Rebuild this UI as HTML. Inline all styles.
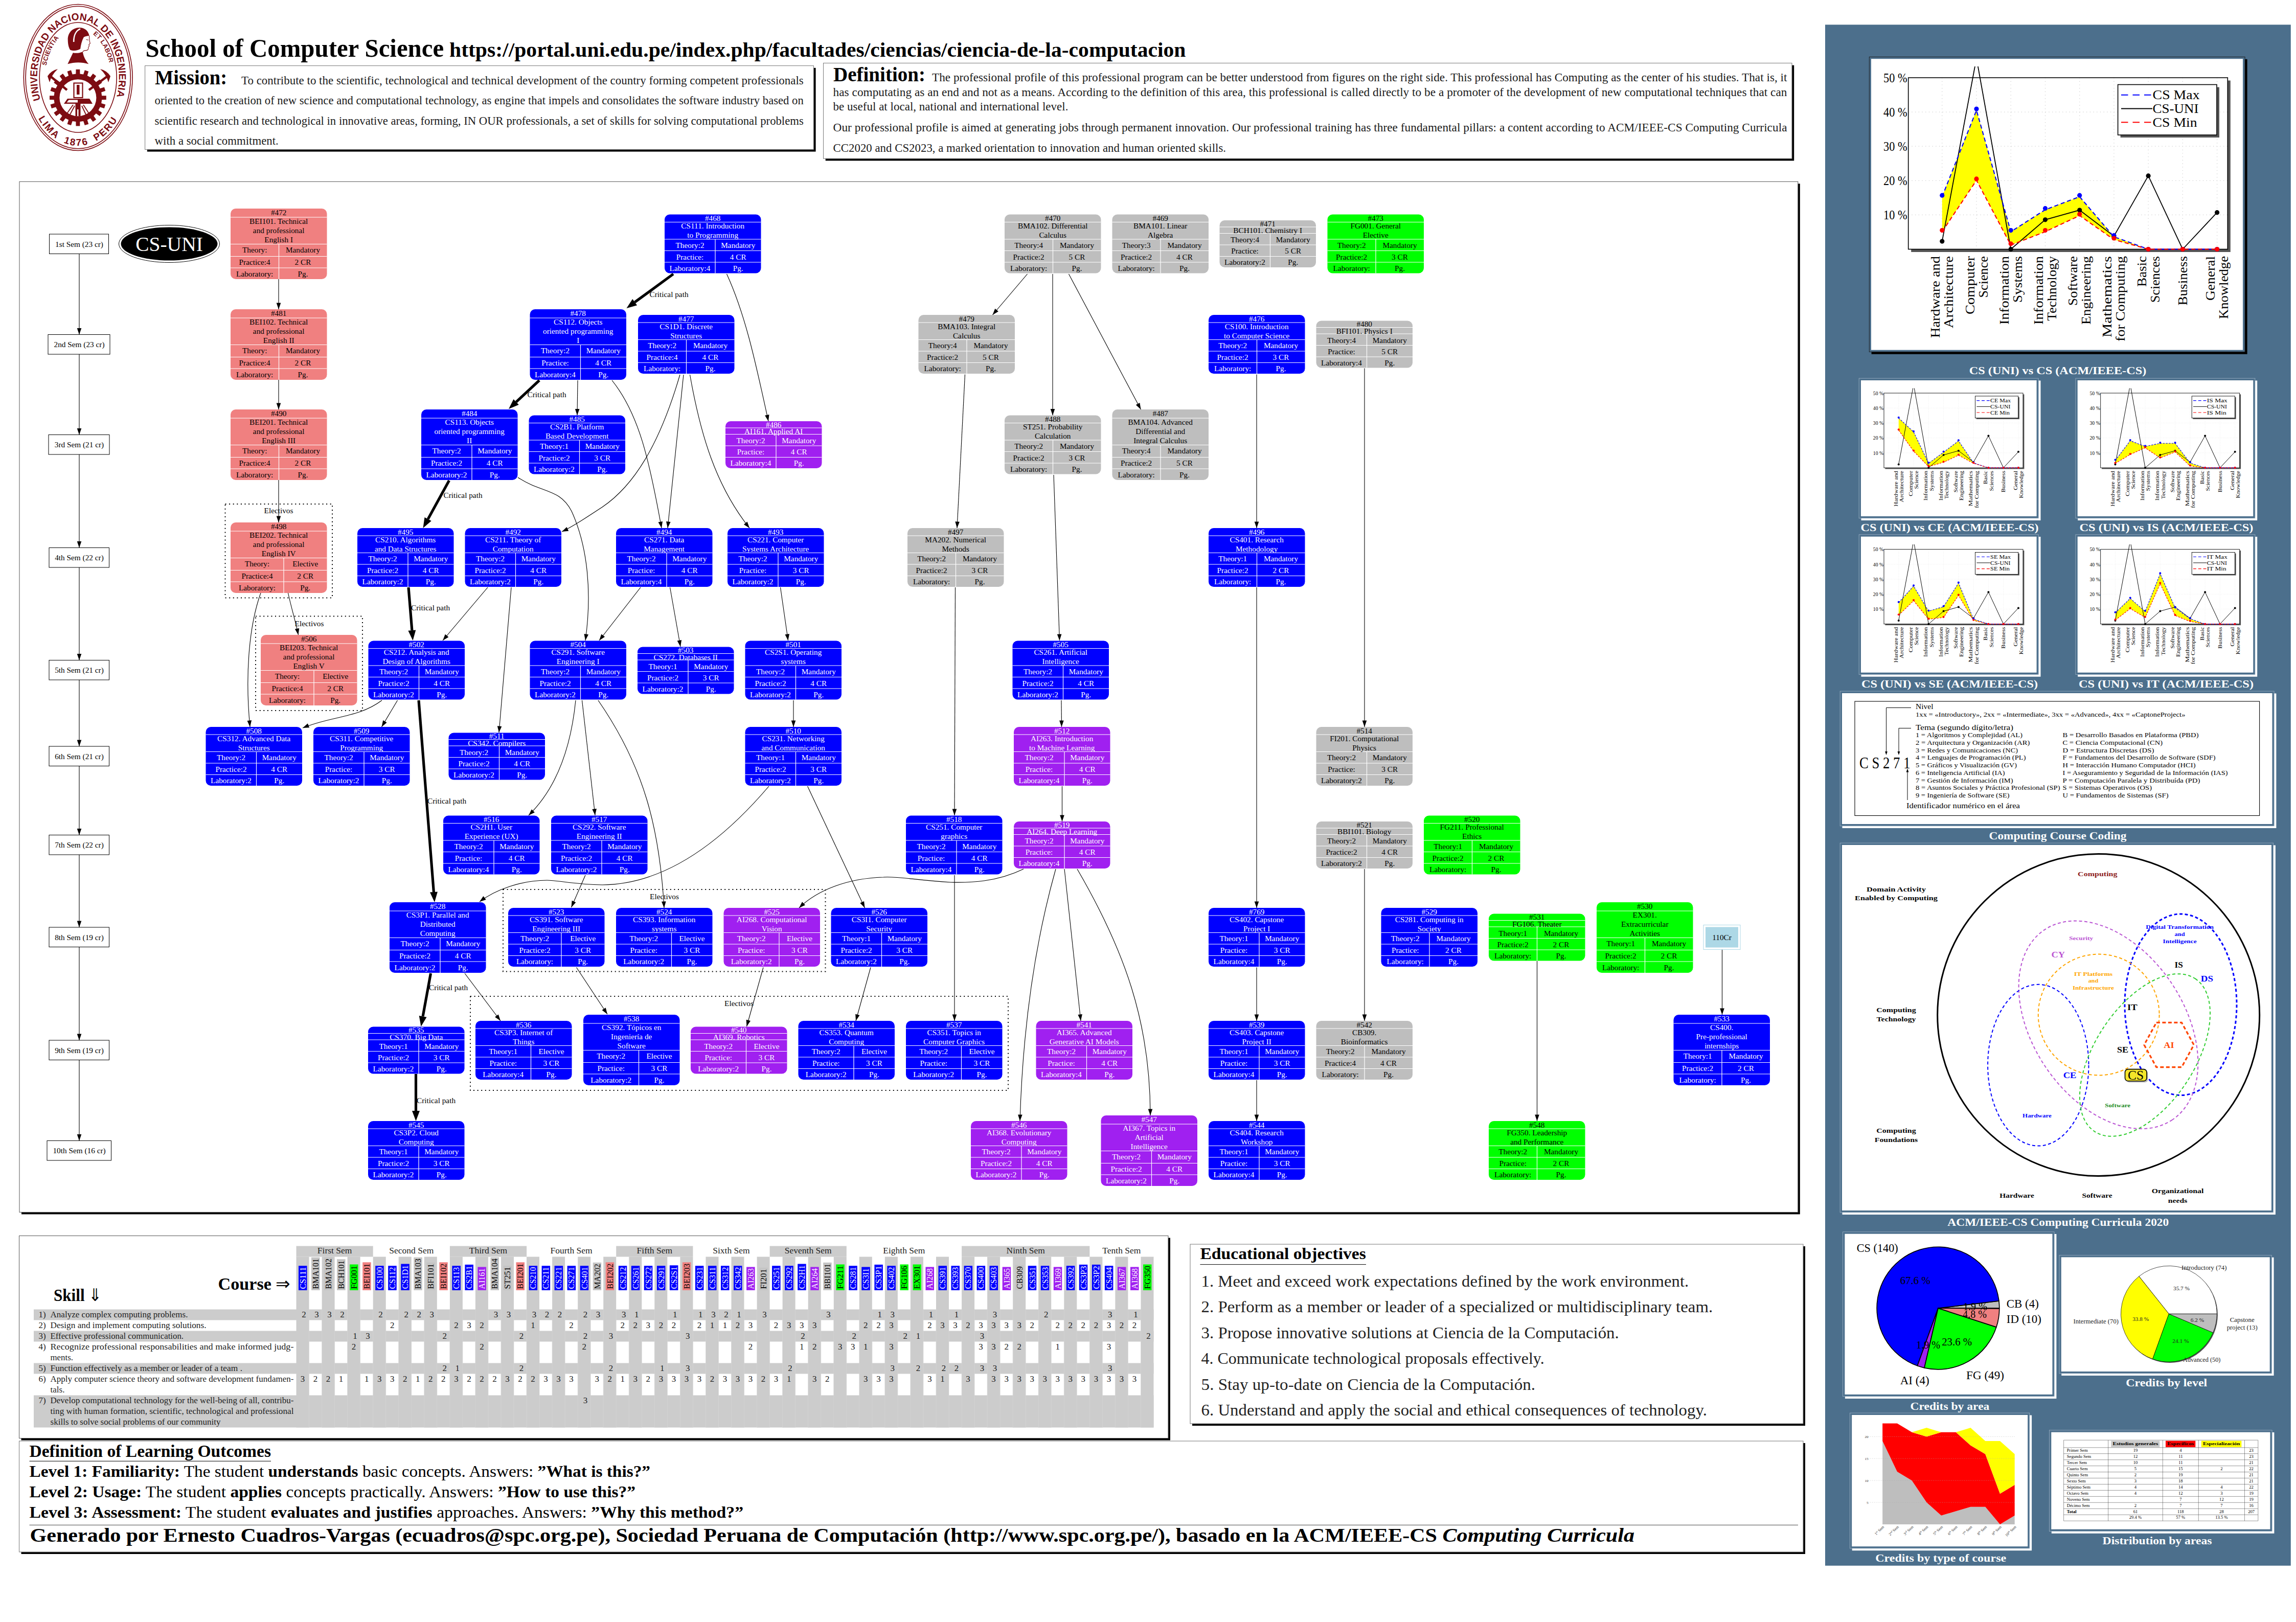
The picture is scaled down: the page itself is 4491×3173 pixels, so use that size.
<!DOCTYPE html>
<html lang="en"><head><meta charset="utf-8"><title>School of Computer Science - UNI</title><style>
html,body{margin:0;padding:0;background:#fff}
svg{display:block}
text{font-family:"Liberation Serif",serif}
.gr text{font-size:15.3px}
.nw text{fill:#fff;text-anchor:middle}
.nk text{fill:#000;text-anchor:middle}
.wl{stroke:#fff;stroke-width:1.2;fill:none}
.e{stroke:#000;stroke-width:1.1;fill:none}
.ec{stroke:#000;stroke-width:5.2;fill:none}

.b{font-weight:bold}
.bd{font-size:23px;fill:#1c1c1c}
.lg text{font-family:"Liberation Sans",sans-serif;font-weight:bold;fill:#7d0c12}

.t17{font-size:17px}
.cl{font-size:17.5px}
.mx text{font-size:17px;text-anchor:middle}

.cap{font-weight:bold;fill:#fff;text-anchor:middle;font-size:21.8px}
.ch text{font-size:25.5px}
.vb{font-weight:bold;font-size:12.6px;text-anchor:middle}
.cd{font-size:11.6px}
.dt text{font-size:8.6px}
</style></head><body>
<svg width="4491" height="3173" viewBox="0 0 4491 3173">
<rect x="42" y="359.3" width="3478.8" height="2016.1" fill="#000"/>
<rect x="38" y="355.3" width="3478.8" height="2016.1" fill="#fff" stroke="#555" stroke-width="1"/>
<g class="gr">
<rect x="96.5" y="458" width="116" height="38.5" fill="#fff" stroke="#000" stroke-width="1"/>
<text x="155" y="482.5" text-anchor="middle">1st Sem (23 cr)</text>
<rect x="94" y="654.5" width="121" height="38.5" fill="#fff" stroke="#000" stroke-width="1"/>
<text x="155" y="679" text-anchor="middle">2nd Sem (23 cr)</text>
<polygon points="155,654.5 150.7,642 159.3,642"/>
<path d="M155,496.5 V654.5" class="e"/>
<rect x="95" y="850.5" width="119" height="38.5" fill="#fff" stroke="#000" stroke-width="1"/>
<text x="155" y="875" text-anchor="middle">3rd Sem (21 cr)</text>
<polygon points="155,850.5 150.7,838 159.3,838"/>
<path d="M155,693 V850.5" class="e"/>
<rect x="96" y="1071.5" width="117.5" height="38.5" fill="#fff" stroke="#000" stroke-width="1"/>
<text x="155" y="1096" text-anchor="middle">4th Sem (22 cr)</text>
<polygon points="155,1071.5 150.7,1059 159.3,1059"/>
<path d="M155,889 V1071.5" class="e"/>
<rect x="96" y="1291.5" width="117.5" height="38.5" fill="#fff" stroke="#000" stroke-width="1"/>
<text x="155" y="1316" text-anchor="middle">5th Sem (21 cr)</text>
<polygon points="155,1291.5 150.7,1279 159.3,1279"/>
<path d="M155,1110 V1291.5" class="e"/>
<rect x="96" y="1460" width="117.5" height="38.5" fill="#fff" stroke="#000" stroke-width="1"/>
<text x="155" y="1484.5" text-anchor="middle">6th Sem (21 cr)</text>
<polygon points="155,1460 150.7,1447.5 159.3,1447.5"/>
<path d="M155,1330 V1460" class="e"/>
<rect x="96" y="1633.5" width="117.5" height="38.5" fill="#fff" stroke="#000" stroke-width="1"/>
<text x="155" y="1658" text-anchor="middle">7th Sem (22 cr)</text>
<polygon points="155,1633.5 150.7,1621 159.3,1621"/>
<path d="M155,1498.5 V1633.5" class="e"/>
<rect x="96" y="1814" width="117.5" height="38.5" fill="#fff" stroke="#000" stroke-width="1"/>
<text x="155" y="1838.5" text-anchor="middle">8th Sem (19 cr)</text>
<polygon points="155,1814 150.7,1801.5 159.3,1801.5"/>
<path d="M155,1672 V1814" class="e"/>
<rect x="96" y="2035" width="117.5" height="38.5" fill="#fff" stroke="#000" stroke-width="1"/>
<text x="155" y="2059.5" text-anchor="middle">9th Sem (19 cr)</text>
<polygon points="155,2035 150.7,2022.5 159.3,2022.5"/>
<path d="M155,1852.5 V2035" class="e"/>
<rect x="92" y="2231.5" width="125.5" height="38.5" fill="#fff" stroke="#000" stroke-width="1"/>
<text x="155" y="2256" text-anchor="middle">10th Sem (16 cr)</text>
<polygon points="155,2231.5 150.7,2219 159.3,2219"/>
<path d="M155,2073.5 V2231.5" class="e"/>
<ellipse cx="331" cy="477" rx="98.5" ry="36.5" fill="none" stroke="#000" stroke-width="1"/>
<ellipse cx="331" cy="477" rx="94.5" ry="32.5" fill="#000"/>
<text x="331" y="490.5" text-anchor="middle" fill="#fff" style="font-size:39.5px">CS-UNI</text>
<rect x="440.5" y="986" width="209.5" height="183.5" fill="none" stroke="#000" stroke-width="2" stroke-dasharray="2,5.6"/>
<text x="545" y="1004" text-anchor="middle">Electivos</text>
<rect x="500" y="1205.5" width="209" height="184.5" fill="none" stroke="#000" stroke-width="2" stroke-dasharray="2,5.6"/>
<text x="605" y="1225" text-anchor="middle">Electivos</text>
<rect x="984" y="1740" width="630.5" height="160.5" fill="none" stroke="#000" stroke-width="2" stroke-dasharray="2,5.6"/>
<text x="1299.5" y="1759" text-anchor="middle">Electivos</text>
<rect x="920" y="1949" width="1052" height="184" fill="none" stroke="#000" stroke-width="2" stroke-dasharray="2,5.6"/>
<text x="1445.5" y="1968" text-anchor="middle">Electivos</text>
<text x="1270.5" y="581">Critical path</text>
<text x="1031.5" y="777">Critical path</text>
<text x="867.5" y="974">Critical path</text>
<text x="804" y="1194">Critical path</text>
<text x="836" y="1572">Critical path</text>
<text x="839" y="1937">Critical path</text>
<text x="815" y="2158">Critical path</text>
<polygon points="545,605 540.7,592.5 549.3,592.5"/>
<path d="M545,546 L545,605" class="e"/>
<polygon points="545,801 540.7,788.5 549.3,788.5"/>
<path d="M545,742.5 L545,801" class="e"/>
<polygon points="545,1022 540.7,1009.5 549.3,1009.5"/>
<path d="M545,939 L545,1022" class="e"/>
<polygon points="583.5,1242 576.8,1230.6 585.2,1228.9"/>
<path d="M563.5,1160 C570,1190 578,1215 583.5,1242" class="e"/>
<polygon points="489,1422 483.5,1410 492.1,1409.1"/>
<path d="M510,1160 C485,1230 480,1330 489,1422" class="e"/>
<polygon points="1225.5,603 1237.2,585.1 1246.1,597.2"/>
<path d="M1317,536 L1241.6,591.2" class="ec"/>
<polygon points="1503,824 1496.1,812.7 1504.5,810.9"/>
<path d="M1421.5,536 C1460,620 1480,720 1503,824" class="e"/>
<polygon points="995,800 1004.5,780.9 1014.7,791.8"/>
<path d="M1055,744 L1009.6,786.4" class="ec"/>
<polygon points="1129,812.5 1124.9,799.9 1133.5,800.1"/>
<path d="M1130,744 L1129,812.5" class="e"/>
<polygon points="1294,1033 1287.5,1021.5 1296,1019.9"/>
<path d="M1197,744 C1250,810 1270,900 1294,1033" class="e"/>
<polygon points="1099,1040 1108.5,1030.9 1112.2,1038.7"/>
<path d="M1330,733 C1290,870 1240,950 1178,992 C1150,1010 1125,1028 1099,1040" class="e"/>
<polygon points="1306,1033 1303,1020.1 1311.6,1021"/>
<path d="M1337,733 L1306,1033" class="e"/>
<polygon points="1466,1033 1454.9,1025.9 1461.6,1020.5"/>
<path d="M1349.5,733 C1370,850 1400,950 1466,1033" class="e"/>
<polygon points="827.5,1033 830.5,1011.9 843.7,1019.1"/>
<path d="M878.5,940 L837.1,1015.5" class="ec"/>
<polygon points="1145,1253 1142.5,1240 1151,1241.2"/>
<path d="M1013,934 C1060,965 1095,955 1118,1000 C1150,1070 1158,1160 1145,1253" class="e"/>
<polygon points="1941.5,616 1946.3,603.7 1952.9,609.3"/>
<path d="M2009.5,536 L1941.5,616" class="e"/>
<polygon points="2059,812.5 2054.7,800 2063.3,800"/>
<path d="M2059,536 L2059,812.5" class="e"/>
<polygon points="2231.5,801 2221.8,792 2229.4,787.9"/>
<path d="M2090.5,536 L2231.5,801" class="e"/>
<polygon points="1872,1033 1868.3,1020.3 1876.9,1020.7"/>
<path d="M1887.5,732.5 L1872,1033" class="e"/>
<polygon points="2072.5,1253 2067.8,1240.7 2076.4,1240.4"/>
<path d="M2061,929 L2072.5,1253" class="e"/>
<polygon points="2458,1033 2453.7,1020.5 2462.3,1020.5"/>
<path d="M2458,732.5 L2458,1033" class="e"/>
<polygon points="2669,1422 2664.7,1409.5 2673.3,1409.5"/>
<path d="M2669,720.5 L2669,1422" class="e"/>
<polygon points="807.5,1253 798.4,1233.7 813.3,1232.5"/>
<path d="M799,1149 L805.9,1233.1" class="ec"/>
<polygon points="866,1253 870.8,1240.7 877.4,1246.2"/>
<path d="M954,1149 L866,1253" class="e"/>
<polygon points="976,1433 972.8,1420.2 981.3,1420.9"/>
<path d="M1000,1149 L976,1433" class="e"/>
<polygon points="1172,1253 1176.3,1240.5 1183.1,1245.8"/>
<path d="M1253,1149 L1172,1253" class="e"/>
<polygon points="1331,1265 1324.6,1253.4 1333.1,1251.9"/>
<path d="M1310.5,1149 L1331,1265" class="e"/>
<polygon points="1541.5,1253 1535.5,1241.2 1544,1240"/>
<path d="M1526.5,1149 L1541.5,1253" class="e"/>
<polygon points="1867,1595 1862.7,1582.5 1871.3,1582.5"/>
<path d="M1868.5,1149 L1867,1595" class="e"/>
<polygon points="592,1424 601.9,1415.2 605.2,1423.2"/>
<path d="M747,1370 C700,1405 650,1400 592,1424" class="e"/>
<polygon points="746.5,1422 749.2,1409.1 756.6,1413.5"/>
<path d="M777.5,1370 L746.5,1422" class="e"/>
<polygon points="850,1765 841,1745.6 855.9,1744.5"/>
<path d="M819,1370 L848.4,1745.1" class="ec"/>
<polygon points="1034,1595 1039.9,1583.2 1045.9,1589.3"/>
<path d="M1126,1370 C1115,1480 1080,1550 1034,1595" class="e"/>
<polygon points="1164,1595 1158.3,1583.1 1166.9,1582.1"/>
<path d="M1138.5,1370 L1164,1595" class="e"/>
<polygon points="1299,1776 1294,1763.8 1302.6,1763.3"/>
<path d="M1170,1370 C1260,1500 1290,1620 1299,1776" class="e"/>
<polygon points="1552,1422 1547.7,1409.5 1556.3,1409.5"/>
<path d="M1552,1370 L1552,1422" class="e"/>
<polygon points="2076.5,1422 2072.1,1409.5 2080.7,1409.5"/>
<path d="M2076,1370 L2076.5,1422" class="e"/>
<polygon points="2077.5,1607 2073.2,1594.5 2081.8,1594.5"/>
<path d="M2077.5,1538 L2077.5,1607" class="e"/>
<polygon points="938,1764 945.4,1753.1 950.6,1759.9"/>
<path d="M1504,1538 C1400,1660 1290,1730 1178,1731 C1130,1731 1090,1722 1070,1722 C1020,1722 970,1740 938,1764" class="e"/>
<polygon points="1691.5,1776 1682.3,1766.5 1690.1,1762.9"/>
<path d="M1579.5,1538 L1691.5,1776" class="e"/>
<polygon points="1117.5,1775 1118.6,1761.8 1126.4,1765.3"/>
<path d="M1145,1712 L1117.5,1775" class="e"/>
<polygon points="1867,1997 1862.7,1984.5 1871.3,1984.5"/>
<path d="M1867,1712 L1867,1997" class="e"/>
<polygon points="1563,1776 1569,1764.2 1575,1770.4"/>
<path d="M2002,1700 C1950,1725 1900,1727 1860,1726 C1790,1722 1760,1714 1728,1716 C1660,1718 1600,1740 1563,1776" class="e"/>
<polygon points="1995,2193 1991.1,2180.4 1999.7,2180.6"/>
<path d="M2065,1700 C2020,1860 2000,2030 1995,2193" class="e"/>
<polygon points="2114,1997 2108.4,1985 2116.9,1984.1"/>
<path d="M2082,1700 L2114,1997" class="e"/>
<polygon points="2250,2182 2245.7,2169.5 2254.3,2169.5"/>
<path d="M2107,1700 C2200,1860 2250,2000 2250,2182" class="e"/>
<polygon points="2669,1997 2664.7,1984.5 2673.3,1984.5"/>
<path d="M2669,1700 L2669,1997" class="e"/>
<polygon points="2458,1997 2453.7,1984.5 2462.3,1984.5"/>
<path d="M2458,1892.5 L2458,1997" class="e"/>
<polygon points="2458,2193 2453.7,2180.5 2462.3,2180.5"/>
<path d="M2458,2113 L2458,2193" class="e"/>
<polygon points="3006.5,2193 3002.2,2180.5 3010.8,2180.5"/>
<path d="M3006.5,1880 L3006.5,2193" class="e"/>
<polygon points="3368.5,1985 3364.2,1972.5 3372.8,1972.5"/>
<path d="M3368.5,1858 L3368.5,1985" class="e"/>
<polygon points="823.5,2008 819.7,1987 834.5,1989.7"/>
<path d="M842.5,1904 L827.1,1988.3" class="ec"/>
<polygon points="979,1997 968,1989.6 974.9,1984.4"/>
<path d="M909,1904 L979,1997" class="e"/>
<polygon points="813.5,2193 806,2173 821,2173"/>
<path d="M813.5,2101 L813.5,2173" class="ec"/>
<polygon points="1188,1984 1177.5,1975.9 1184.7,1971.2"/>
<path d="M1127.5,1892.5 L1188,1984" class="e"/>
<polygon points="1460.5,2008 1459.7,1994.8 1468,1997.1"/>
<path d="M1493,1892.5 L1460.5,2008" class="e"/>
<polygon points="1674,1997 1673.2,1983.8 1681.5,1986.1"/>
<path d="M1703,1892.5 L1674,1997" class="e"/>
<polygon points="2458,1776 2453.7,1763.5 2462.3,1763.5"/>
<path d="M2458,1149 L2458,1776" class="e"/>
<rect x="3332" y="1809.5" width="72" height="48" fill="#fff" stroke="#add8e6" stroke-width="1"/>
<rect x="3336" y="1813.5" width="64" height="40" fill="#add8e6"/>
<text x="3368" y="1838.5" text-anchor="middle">110Cr</text>
<g transform="translate(451,408)" class="nk">
<rect width="188.5" height="138" rx="10" fill="#f08080"/>
<path d="M0,17H188.5M0,69.5H188.5M0,93.5H188.5M0,116H188.5M94.5,69.5V138" class="wl"/>
<text x="94.2" y="12.7">#472</text>
<text x="94.2" y="30.3">BEI101. Technical</text>
<text x="94.2" y="48">and professional</text>
<text x="94.2" y="65.8">English I</text>
<text x="47.2" y="86">Theory:</text><text x="141.5" y="86">Mandatory</text>
<text x="47.2" y="110">Practice:4</text><text x="141.5" y="110">2 CR</text>
<text x="47.2" y="132.5">Laboratory:</text><text x="141.5" y="132.5">Pg.</text>
</g>
<g transform="translate(451,605)" class="nk">
<rect width="188.5" height="138" rx="10" fill="#f08080"/>
<path d="M0,17H188.5M0,69.5H188.5M0,93.5H188.5M0,116H188.5M94.5,69.5V138" class="wl"/>
<text x="94.2" y="12.7">#481</text>
<text x="94.2" y="30.3">BEI102. Technical</text>
<text x="94.2" y="48">and professional</text>
<text x="94.2" y="65.8">English II</text>
<text x="47.2" y="86">Theory:</text><text x="141.5" y="86">Mandatory</text>
<text x="47.2" y="110">Practice:4</text><text x="141.5" y="110">2 CR</text>
<text x="47.2" y="132.5">Laboratory:</text><text x="141.5" y="132.5">Pg.</text>
</g>
<g transform="translate(451,801)" class="nk">
<rect width="188.5" height="138" rx="10" fill="#f08080"/>
<path d="M0,17H188.5M0,69.5H188.5M0,93.5H188.5M0,116H188.5M94.5,69.5V138" class="wl"/>
<text x="94.2" y="12.7">#490</text>
<text x="94.2" y="30.3">BEI201. Technical</text>
<text x="94.2" y="48">and professional</text>
<text x="94.2" y="65.8">English III</text>
<text x="47.2" y="86">Theory:</text><text x="141.5" y="86">Mandatory</text>
<text x="47.2" y="110">Practice:4</text><text x="141.5" y="110">2 CR</text>
<text x="47.2" y="132.5">Laboratory:</text><text x="141.5" y="132.5">Pg.</text>
</g>
<g transform="translate(451,1022)" class="nk">
<rect width="188.5" height="138" rx="10" fill="#f08080"/>
<path d="M0,17H188.5M0,69.5H188.5M0,93.5H188.5M0,116H188.5M104,69.5V138" class="wl"/>
<text x="94.2" y="12.7">#498</text>
<text x="94.2" y="30.3">BEI202. Technical</text>
<text x="94.2" y="48">and professional</text>
<text x="94.2" y="65.8">English IV</text>
<text x="52" y="86">Theory:</text><text x="146.2" y="86">Elective</text>
<text x="52" y="110">Practice:4</text><text x="146.2" y="110">2 CR</text>
<text x="52" y="132.5">Laboratory:</text><text x="146.2" y="132.5">Pg.</text>
</g>
<g transform="translate(510,1242)" class="nk">
<rect width="188.5" height="138" rx="10" fill="#f08080"/>
<path d="M0,17H188.5M0,69.5H188.5M0,93.5H188.5M0,116H188.5M104,69.5V138" class="wl"/>
<text x="94.2" y="12.7">#506</text>
<text x="94.2" y="30.3">BEI203. Technical</text>
<text x="94.2" y="48">and professional</text>
<text x="94.2" y="65.8">English V</text>
<text x="52" y="86">Theory:</text><text x="146.2" y="86">Elective</text>
<text x="52" y="110">Practice:4</text><text x="146.2" y="110">2 CR</text>
<text x="52" y="132.5">Laboratory:</text><text x="146.2" y="132.5">Pg.</text>
</g>
<g transform="translate(1300,419.5)" class="nw">
<rect width="188.5" height="115" rx="10" fill="#0000ff"/>
<path d="M0,15H188.5M0,48.5H188.5M0,71H188.5M0,93.5H188.5M99,48.5V115" class="wl"/>
<text x="94.2" y="12.5">#468</text>
<text x="94.2" y="27.9">CS111. Introduction</text>
<text x="94.2" y="45.9">to Programming</text>
<text x="49.5" y="65">Theory:2</text><text x="143.8" y="65">Mandatory</text>
<text x="49.5" y="88">Practice:</text><text x="143.8" y="88">4 CR</text>
<text x="49.5" y="110">Laboratory:4</text><text x="143.8" y="110">Pg.</text>
</g>
<g transform="translate(1036.5,605)" class="nw">
<rect width="188.5" height="138" rx="10" fill="#0000ff"/>
<path d="M0,17H188.5M0,69.5H188.5M0,93.5H188.5M0,116H188.5M99,69.5V138" class="wl"/>
<text x="94.2" y="12.7">#478</text>
<text x="94.2" y="30.3">CS112. Objects</text>
<text x="94.2" y="48">oriented programming</text>
<text x="94.2" y="65.8">I</text>
<text x="49.5" y="86">Theory:2</text><text x="143.8" y="86">Mandatory</text>
<text x="49.5" y="110">Practice:</text><text x="143.8" y="110">4 CR</text>
<text x="49.5" y="132.5">Laboratory:4</text><text x="143.8" y="132.5">Pg.</text>
</g>
<g transform="translate(1248,616)" class="nw">
<rect width="188.5" height="115" rx="10" fill="#0000ff"/>
<path d="M0,15H188.5M0,48.5H188.5M0,71H188.5M0,93.5H188.5M94.5,48.5V115" class="wl"/>
<text x="94.2" y="12.5">#477</text>
<text x="94.2" y="27.9">CS1D1. Discrete</text>
<text x="94.2" y="45.9">Structures</text>
<text x="47.2" y="65">Theory:2</text><text x="141.5" y="65">Mandatory</text>
<text x="47.2" y="88">Practice:4</text><text x="141.5" y="88">4 CR</text>
<text x="47.2" y="110">Laboratory:</text><text x="141.5" y="110">Pg.</text>
</g>
<g transform="translate(824,801)" class="nw">
<rect width="188.5" height="138" rx="10" fill="#0000ff"/>
<path d="M0,17H188.5M0,69.5H188.5M0,93.5H188.5M0,116H188.5M99,69.5V138" class="wl"/>
<text x="94.2" y="12.7">#484</text>
<text x="94.2" y="30.3">CS113. Objects</text>
<text x="94.2" y="48">oriented programming</text>
<text x="94.2" y="65.8">II</text>
<text x="49.5" y="86">Theory:2</text><text x="143.8" y="86">Mandatory</text>
<text x="49.5" y="110">Practice:2</text><text x="143.8" y="110">4 CR</text>
<text x="49.5" y="132.5">Laboratory:2</text><text x="143.8" y="132.5">Pg.</text>
</g>
<g transform="translate(1034.5,812.5)" class="nw">
<rect width="188.5" height="115" rx="10" fill="#0000ff"/>
<path d="M0,15H188.5M0,48.5H188.5M0,71H188.5M0,93.5H188.5M99,48.5V115" class="wl"/>
<text x="94.2" y="12.5">#485</text>
<text x="94.2" y="27.9">CS2B1. Platform</text>
<text x="94.2" y="45.9">Based Development</text>
<text x="49.5" y="65">Theory:1</text><text x="143.8" y="65">Mandatory</text>
<text x="49.5" y="88">Practice:2</text><text x="143.8" y="88">3 CR</text>
<text x="49.5" y="110">Laboratory:2</text><text x="143.8" y="110">Pg.</text>
</g>
<g transform="translate(1419,824)" class="nw">
<rect width="188.5" height="92" rx="10" fill="#a020f0"/>
<path d="M0,13H188.5M0,25.5H188.5M0,48H188.5M0,70.5H188.5M99,25.5V92" class="wl"/>
<text x="94.2" y="11.5">#486</text>
<text x="94.2" y="25">AI161. Applied AI</text>
<text x="49.5" y="43">Theory:2</text><text x="143.8" y="43">Mandatory</text>
<text x="49.5" y="65">Practice:</text><text x="143.8" y="65">4 CR</text>
<text x="49.5" y="87">Laboratory:4</text><text x="143.8" y="87">Pg.</text>
</g>
<g transform="translate(699,1033)" class="nw">
<rect width="188.5" height="115" rx="10" fill="#0000ff"/>
<path d="M0,15H188.5M0,48.5H188.5M0,71H188.5M0,93.5H188.5M99,48.5V115" class="wl"/>
<text x="94.2" y="12.5">#495</text>
<text x="94.2" y="27.9">CS210. Algorithms</text>
<text x="94.2" y="45.9">and Data Structures</text>
<text x="49.5" y="65">Theory:2</text><text x="143.8" y="65">Mandatory</text>
<text x="49.5" y="88">Practice:2</text><text x="143.8" y="88">4 CR</text>
<text x="49.5" y="110">Laboratory:2</text><text x="143.8" y="110">Pg.</text>
</g>
<g transform="translate(909.5,1033)" class="nw">
<rect width="188.5" height="115" rx="10" fill="#0000ff"/>
<path d="M0,15H188.5M0,48.5H188.5M0,71H188.5M0,93.5H188.5M99,48.5V115" class="wl"/>
<text x="94.2" y="12.5">#492</text>
<text x="94.2" y="27.9">CS211. Theory of</text>
<text x="94.2" y="45.9">Computation</text>
<text x="49.5" y="65">Theory:2</text><text x="143.8" y="65">Mandatory</text>
<text x="49.5" y="88">Practice:2</text><text x="143.8" y="88">4 CR</text>
<text x="49.5" y="110">Laboratory:2</text><text x="143.8" y="110">Pg.</text>
</g>
<g transform="translate(1205,1033)" class="nw">
<rect width="188.5" height="115" rx="10" fill="#0000ff"/>
<path d="M0,15H188.5M0,48.5H188.5M0,71H188.5M0,93.5H188.5M99,48.5V115" class="wl"/>
<text x="94.2" y="12.5">#494</text>
<text x="94.2" y="27.9">CS271. Data</text>
<text x="94.2" y="45.9">Management</text>
<text x="49.5" y="65">Theory:2</text><text x="143.8" y="65">Mandatory</text>
<text x="49.5" y="88">Practice:</text><text x="143.8" y="88">4 CR</text>
<text x="49.5" y="110">Laboratory:4</text><text x="143.8" y="110">Pg.</text>
</g>
<g transform="translate(1423,1033)" class="nw">
<rect width="188.5" height="115" rx="10" fill="#0000ff"/>
<path d="M0,15H188.5M0,48.5H188.5M0,71H188.5M0,93.5H188.5M99,48.5V115" class="wl"/>
<text x="94.2" y="12.5">#493</text>
<text x="94.2" y="27.9">CS221. Computer</text>
<text x="94.2" y="45.9">Systems Architecture</text>
<text x="49.5" y="65">Theory:2</text><text x="143.8" y="65">Mandatory</text>
<text x="49.5" y="88">Practice:</text><text x="143.8" y="88">3 CR</text>
<text x="49.5" y="110">Laboratory:2</text><text x="143.8" y="110">Pg.</text>
</g>
<g transform="translate(1965,419.5)" class="nk">
<rect width="188.5" height="115" rx="10" fill="#bebebe"/>
<path d="M0,15H188.5M0,48.5H188.5M0,71H188.5M0,93.5H188.5M94.5,48.5V115" class="wl"/>
<text x="94.2" y="12.5">#470</text>
<text x="94.2" y="27.9">BMA102. Differential</text>
<text x="94.2" y="45.9">Calculus</text>
<text x="47.2" y="65">Theory:4</text><text x="141.5" y="65">Mandatory</text>
<text x="47.2" y="88">Practice:2</text><text x="141.5" y="88">5 CR</text>
<text x="47.2" y="110">Laboratory:</text><text x="141.5" y="110">Pg.</text>
</g>
<g transform="translate(2175.5,419.5)" class="nk">
<rect width="188.5" height="115" rx="10" fill="#bebebe"/>
<path d="M0,15H188.5M0,48.5H188.5M0,71H188.5M0,93.5H188.5M94.5,48.5V115" class="wl"/>
<text x="94.2" y="12.5">#469</text>
<text x="94.2" y="27.9">BMA101. Linear</text>
<text x="94.2" y="45.9">Algebra</text>
<text x="47.2" y="65">Theory:3</text><text x="141.5" y="65">Mandatory</text>
<text x="47.2" y="88">Practice:2</text><text x="141.5" y="88">4 CR</text>
<text x="47.2" y="110">Laboratory:</text><text x="141.5" y="110">Pg.</text>
</g>
<g transform="translate(2385.5,431)" class="nk">
<rect width="188.5" height="92" rx="10" fill="#bebebe"/>
<path d="M0,13H188.5M0,25.5H188.5M0,48H188.5M0,70.5H188.5M99,25.5V92" class="wl"/>
<text x="94.2" y="11.5">#471</text>
<text x="94.2" y="25">BCH101. Chemistry I</text>
<text x="49.5" y="43">Theory:4</text><text x="143.8" y="43">Mandatory</text>
<text x="49.5" y="65">Practice:</text><text x="143.8" y="65">5 CR</text>
<text x="49.5" y="87">Laboratory:2</text><text x="143.8" y="87">Pg.</text>
</g>
<g transform="translate(2596.5,419.5)" class="nk">
<rect width="188.5" height="115" rx="10" fill="#00ff00"/>
<path d="M0,15H188.5M0,48.5H188.5M0,71H188.5M0,93.5H188.5M94.5,48.5V115" class="wl"/>
<text x="94.2" y="12.5">#473</text>
<text x="94.2" y="27.9">FG001. General</text>
<text x="94.2" y="45.9">Elective</text>
<text x="47.2" y="65">Theory:2</text><text x="141.5" y="65">Mandatory</text>
<text x="47.2" y="88">Practice:2</text><text x="141.5" y="88">3 CR</text>
<text x="47.2" y="110">Laboratory:</text><text x="141.5" y="110">Pg.</text>
</g>
<g transform="translate(1796.5,616)" class="nk">
<rect width="188.5" height="115" rx="10" fill="#bebebe"/>
<path d="M0,15H188.5M0,48.5H188.5M0,71H188.5M0,93.5H188.5M94.5,48.5V115" class="wl"/>
<text x="94.2" y="12.5">#479</text>
<text x="94.2" y="27.9">BMA103. Integral</text>
<text x="94.2" y="45.9">Calculus</text>
<text x="47.2" y="65">Theory:4</text><text x="141.5" y="65">Mandatory</text>
<text x="47.2" y="88">Practice:2</text><text x="141.5" y="88">5 CR</text>
<text x="47.2" y="110">Laboratory:</text><text x="141.5" y="110">Pg.</text>
</g>
<g transform="translate(2364,616)" class="nw">
<rect width="188.5" height="115" rx="10" fill="#0000ff"/>
<path d="M0,15H188.5M0,48.5H188.5M0,71H188.5M0,93.5H188.5M94.5,48.5V115" class="wl"/>
<text x="94.2" y="12.5">#476</text>
<text x="94.2" y="27.9">CS100. Introduction</text>
<text x="94.2" y="45.9">to Computer Science</text>
<text x="47.2" y="65">Theory:2</text><text x="141.5" y="65">Mandatory</text>
<text x="47.2" y="88">Practice:2</text><text x="141.5" y="88">3 CR</text>
<text x="47.2" y="110">Laboratory:</text><text x="141.5" y="110">Pg.</text>
</g>
<g transform="translate(2574.5,627.5)" class="nk">
<rect width="188.5" height="92" rx="10" fill="#bebebe"/>
<path d="M0,13H188.5M0,25.5H188.5M0,48H188.5M0,70.5H188.5M99,25.5V92" class="wl"/>
<text x="94.2" y="11.5">#480</text>
<text x="94.2" y="25">BFI101. Physics I</text>
<text x="49.5" y="43">Theory:4</text><text x="143.8" y="43">Mandatory</text>
<text x="49.5" y="65">Practice:</text><text x="143.8" y="65">5 CR</text>
<text x="49.5" y="87">Laboratory:4</text><text x="143.8" y="87">Pg.</text>
</g>
<g transform="translate(1965,812.5)" class="nk">
<rect width="188.5" height="115" rx="10" fill="#bebebe"/>
<path d="M0,15H188.5M0,48.5H188.5M0,71H188.5M0,93.5H188.5M94.5,48.5V115" class="wl"/>
<text x="94.2" y="12.5">#488</text>
<text x="94.2" y="27.9">ST251. Probability</text>
<text x="94.2" y="45.9">Calculation</text>
<text x="47.2" y="65">Theory:2</text><text x="141.5" y="65">Mandatory</text>
<text x="47.2" y="88">Practice:2</text><text x="141.5" y="88">3 CR</text>
<text x="47.2" y="110">Laboratory:</text><text x="141.5" y="110">Pg.</text>
</g>
<g transform="translate(2175.5,801)" class="nk">
<rect width="188.5" height="138" rx="10" fill="#bebebe"/>
<path d="M0,17H188.5M0,69.5H188.5M0,93.5H188.5M0,116H188.5M94.5,69.5V138" class="wl"/>
<text x="94.2" y="12.7">#487</text>
<text x="94.2" y="30.3">BMA104. Advanced</text>
<text x="94.2" y="48">Differential and</text>
<text x="94.2" y="65.8">Integral Calculus</text>
<text x="47.2" y="86">Theory:4</text><text x="141.5" y="86">Mandatory</text>
<text x="47.2" y="110">Practice:2</text><text x="141.5" y="110">5 CR</text>
<text x="47.2" y="132.5">Laboratory:</text><text x="141.5" y="132.5">Pg.</text>
</g>
<g transform="translate(1775,1033)" class="nk">
<rect width="188.5" height="115" rx="10" fill="#bebebe"/>
<path d="M0,15H188.5M0,48.5H188.5M0,71H188.5M0,93.5H188.5M94.5,48.5V115" class="wl"/>
<text x="94.2" y="12.5">#497</text>
<text x="94.2" y="27.9">MA202. Numerical</text>
<text x="94.2" y="45.9">Methods</text>
<text x="47.2" y="65">Theory:2</text><text x="141.5" y="65">Mandatory</text>
<text x="47.2" y="88">Practice:2</text><text x="141.5" y="88">3 CR</text>
<text x="47.2" y="110">Laboratory:</text><text x="141.5" y="110">Pg.</text>
</g>
<g transform="translate(2364,1033)" class="nw">
<rect width="188.5" height="115" rx="10" fill="#0000ff"/>
<path d="M0,15H188.5M0,48.5H188.5M0,71H188.5M0,93.5H188.5M94.5,48.5V115" class="wl"/>
<text x="94.2" y="12.5">#496</text>
<text x="94.2" y="27.9">CS401. Research</text>
<text x="94.2" y="45.9">Methodology</text>
<text x="47.2" y="65">Theory:1</text><text x="141.5" y="65">Mandatory</text>
<text x="47.2" y="88">Practice:2</text><text x="141.5" y="88">2 CR</text>
<text x="47.2" y="110">Laboratory:</text><text x="141.5" y="110">Pg.</text>
</g>
<g transform="translate(720.5,1253.5)" class="nw">
<rect width="188.5" height="115" rx="10" fill="#0000ff"/>
<path d="M0,15H188.5M0,48.5H188.5M0,71H188.5M0,93.5H188.5M99,48.5V115" class="wl"/>
<text x="94.2" y="12.5">#502</text>
<text x="94.2" y="27.9">CS212. Analysis and</text>
<text x="94.2" y="45.9">Design of Algorithms</text>
<text x="49.5" y="65">Theory:2</text><text x="143.8" y="65">Mandatory</text>
<text x="49.5" y="88">Practice:2</text><text x="143.8" y="88">4 CR</text>
<text x="49.5" y="110">Laboratory:2</text><text x="143.8" y="110">Pg.</text>
</g>
<g transform="translate(1036.5,1253.5)" class="nw">
<rect width="188.5" height="115" rx="10" fill="#0000ff"/>
<path d="M0,15H188.5M0,48.5H188.5M0,71H188.5M0,93.5H188.5M99,48.5V115" class="wl"/>
<text x="94.2" y="12.5">#504</text>
<text x="94.2" y="27.9">CS291. Software</text>
<text x="94.2" y="45.9">Engineering I</text>
<text x="49.5" y="65">Theory:2</text><text x="143.8" y="65">Mandatory</text>
<text x="49.5" y="88">Practice:2</text><text x="143.8" y="88">4 CR</text>
<text x="49.5" y="110">Laboratory:2</text><text x="143.8" y="110">Pg.</text>
</g>
<g transform="translate(1247,1265.5)" class="nw">
<rect width="188.5" height="92" rx="10" fill="#0000ff"/>
<path d="M0,13H188.5M0,25.5H188.5M0,48H188.5M0,70.5H188.5M99,25.5V92" class="wl"/>
<text x="94.2" y="11.5">#503</text>
<text x="94.2" y="25">CS272. Databases II</text>
<text x="49.5" y="43">Theory:1</text><text x="143.8" y="43">Mandatory</text>
<text x="49.5" y="65">Practice:2</text><text x="143.8" y="65">3 CR</text>
<text x="49.5" y="87">Laboratory:2</text><text x="143.8" y="87">Pg.</text>
</g>
<g transform="translate(1457.5,1253.5)" class="nw">
<rect width="188.5" height="115" rx="10" fill="#0000ff"/>
<path d="M0,15H188.5M0,48.5H188.5M0,71H188.5M0,93.5H188.5M99,48.5V115" class="wl"/>
<text x="94.2" y="12.5">#501</text>
<text x="94.2" y="27.9">CS2S1. Operating</text>
<text x="94.2" y="45.9">systems</text>
<text x="49.5" y="65">Theory:2</text><text x="143.8" y="65">Mandatory</text>
<text x="49.5" y="88">Practice:2</text><text x="143.8" y="88">4 CR</text>
<text x="49.5" y="110">Laboratory:2</text><text x="143.8" y="110">Pg.</text>
</g>
<g transform="translate(1980.5,1253.5)" class="nw">
<rect width="188.5" height="115" rx="10" fill="#0000ff"/>
<path d="M0,15H188.5M0,48.5H188.5M0,71H188.5M0,93.5H188.5M99,48.5V115" class="wl"/>
<text x="94.2" y="12.5">#505</text>
<text x="94.2" y="27.9">CS261. Artificial</text>
<text x="94.2" y="45.9">Intelligence</text>
<text x="49.5" y="65">Theory:2</text><text x="143.8" y="65">Mandatory</text>
<text x="49.5" y="88">Practice:2</text><text x="143.8" y="88">4 CR</text>
<text x="49.5" y="110">Laboratory:2</text><text x="143.8" y="110">Pg.</text>
</g>
<g transform="translate(402.5,1422)" class="nw">
<rect width="188.5" height="115" rx="10" fill="#0000ff"/>
<path d="M0,15H188.5M0,48.5H188.5M0,71H188.5M0,93.5H188.5M99,48.5V115" class="wl"/>
<text x="94.2" y="12.5">#508</text>
<text x="94.2" y="27.9">CS312. Advanced Data</text>
<text x="94.2" y="45.9">Structures</text>
<text x="49.5" y="65">Theory:2</text><text x="143.8" y="65">Mandatory</text>
<text x="49.5" y="88">Practice:2</text><text x="143.8" y="88">4 CR</text>
<text x="49.5" y="110">Laboratory:2</text><text x="143.8" y="110">Pg.</text>
</g>
<g transform="translate(613,1422)" class="nw">
<rect width="188.5" height="115" rx="10" fill="#0000ff"/>
<path d="M0,15H188.5M0,48.5H188.5M0,71H188.5M0,93.5H188.5M99,48.5V115" class="wl"/>
<text x="94.2" y="12.5">#509</text>
<text x="94.2" y="27.9">CS311. Competitive</text>
<text x="94.2" y="45.9">Programming</text>
<text x="49.5" y="65">Theory:2</text><text x="143.8" y="65">Mandatory</text>
<text x="49.5" y="88">Practice:</text><text x="143.8" y="88">3 CR</text>
<text x="49.5" y="110">Laboratory:2</text><text x="143.8" y="110">Pg.</text>
</g>
<g transform="translate(877.5,1433.5)" class="nw">
<rect width="188.5" height="92" rx="10" fill="#0000ff"/>
<path d="M0,13H188.5M0,25.5H188.5M0,48H188.5M0,70.5H188.5M99,25.5V92" class="wl"/>
<text x="94.2" y="11.5">#511</text>
<text x="94.2" y="25">CS342. Compilers</text>
<text x="49.5" y="43">Theory:2</text><text x="143.8" y="43">Mandatory</text>
<text x="49.5" y="65">Practice:2</text><text x="143.8" y="65">4 CR</text>
<text x="49.5" y="87">Laboratory:2</text><text x="143.8" y="87">Pg.</text>
</g>
<g transform="translate(1457.5,1422)" class="nw">
<rect width="188.5" height="115" rx="10" fill="#0000ff"/>
<path d="M0,15H188.5M0,48.5H188.5M0,71H188.5M0,93.5H188.5M99,48.5V115" class="wl"/>
<text x="94.2" y="12.5">#510</text>
<text x="94.2" y="27.9">CS231. Networking</text>
<text x="94.2" y="45.9">and Communication</text>
<text x="49.5" y="65">Theory:1</text><text x="143.8" y="65">Mandatory</text>
<text x="49.5" y="88">Practice:2</text><text x="143.8" y="88">3 CR</text>
<text x="49.5" y="110">Laboratory:2</text><text x="143.8" y="110">Pg.</text>
</g>
<g transform="translate(1983,1422)" class="nw">
<rect width="188.5" height="115" rx="10" fill="#a020f0"/>
<path d="M0,15H188.5M0,48.5H188.5M0,71H188.5M0,93.5H188.5M99,48.5V115" class="wl"/>
<text x="94.2" y="12.5">#512</text>
<text x="94.2" y="27.9">AI263. Introduction</text>
<text x="94.2" y="45.9">to Machine Learning</text>
<text x="49.5" y="65">Theory:2</text><text x="143.8" y="65">Mandatory</text>
<text x="49.5" y="88">Practice:</text><text x="143.8" y="88">4 CR</text>
<text x="49.5" y="110">Laboratory:4</text><text x="143.8" y="110">Pg.</text>
</g>
<g transform="translate(2574.5,1422)" class="nk">
<rect width="188.5" height="115" rx="10" fill="#bebebe"/>
<path d="M0,15H188.5M0,48.5H188.5M0,71H188.5M0,93.5H188.5M99,48.5V115" class="wl"/>
<text x="94.2" y="12.5">#514</text>
<text x="94.2" y="27.9">FI201. Computational</text>
<text x="94.2" y="45.9">Physics</text>
<text x="49.5" y="65">Theory:2</text><text x="143.8" y="65">Mandatory</text>
<text x="49.5" y="88">Practice:</text><text x="143.8" y="88">3 CR</text>
<text x="49.5" y="110">Laboratory:2</text><text x="143.8" y="110">Pg.</text>
</g>
<g transform="translate(867,1595.5)" class="nw">
<rect width="188.5" height="115" rx="10" fill="#0000ff"/>
<path d="M0,15H188.5M0,48.5H188.5M0,71H188.5M0,93.5H188.5M99,48.5V115" class="wl"/>
<text x="94.2" y="12.5">#516</text>
<text x="94.2" y="27.9">CS2H1. User</text>
<text x="94.2" y="45.9">Experience (UX)</text>
<text x="49.5" y="65">Theory:2</text><text x="143.8" y="65">Mandatory</text>
<text x="49.5" y="88">Practice:</text><text x="143.8" y="88">4 CR</text>
<text x="49.5" y="110">Laboratory:4</text><text x="143.8" y="110">Pg.</text>
</g>
<g transform="translate(1078,1595.5)" class="nw">
<rect width="188.5" height="115" rx="10" fill="#0000ff"/>
<path d="M0,15H188.5M0,48.5H188.5M0,71H188.5M0,93.5H188.5M99,48.5V115" class="wl"/>
<text x="94.2" y="12.5">#517</text>
<text x="94.2" y="27.9">CS292. Software</text>
<text x="94.2" y="45.9">Engineering II</text>
<text x="49.5" y="65">Theory:2</text><text x="143.8" y="65">Mandatory</text>
<text x="49.5" y="88">Practice:2</text><text x="143.8" y="88">4 CR</text>
<text x="49.5" y="110">Laboratory:2</text><text x="143.8" y="110">Pg.</text>
</g>
<g transform="translate(1772,1595.5)" class="nw">
<rect width="188.5" height="115" rx="10" fill="#0000ff"/>
<path d="M0,15H188.5M0,48.5H188.5M0,71H188.5M0,93.5H188.5M99,48.5V115" class="wl"/>
<text x="94.2" y="12.5">#518</text>
<text x="94.2" y="27.9">CS251. Computer</text>
<text x="94.2" y="45.9">graphics</text>
<text x="49.5" y="65">Theory:2</text><text x="143.8" y="65">Mandatory</text>
<text x="49.5" y="88">Practice:</text><text x="143.8" y="88">4 CR</text>
<text x="49.5" y="110">Laboratory:4</text><text x="143.8" y="110">Pg.</text>
</g>
<g transform="translate(1983,1607)" class="nw">
<rect width="188.5" height="92" rx="10" fill="#a020f0"/>
<path d="M0,13H188.5M0,25.5H188.5M0,48H188.5M0,70.5H188.5M99,25.5V92" class="wl"/>
<text x="94.2" y="11.5">#519</text>
<text x="94.2" y="25">AI264. Deep Learning</text>
<text x="49.5" y="43">Theory:2</text><text x="143.8" y="43">Mandatory</text>
<text x="49.5" y="65">Practice:</text><text x="143.8" y="65">4 CR</text>
<text x="49.5" y="87">Laboratory:4</text><text x="143.8" y="87">Pg.</text>
</g>
<g transform="translate(2574.5,1607)" class="nk">
<rect width="188.5" height="92" rx="10" fill="#bebebe"/>
<path d="M0,13H188.5M0,25.5H188.5M0,48H188.5M0,70.5H188.5M99,25.5V92" class="wl"/>
<text x="94.2" y="11.5">#521</text>
<text x="94.2" y="25">BBI101. Biology</text>
<text x="49.5" y="43">Theory:2</text><text x="143.8" y="43">Mandatory</text>
<text x="49.5" y="65">Practice:2</text><text x="143.8" y="65">4 CR</text>
<text x="49.5" y="87">Laboratory:2</text><text x="143.8" y="87">Pg.</text>
</g>
<g transform="translate(2785,1595.5)" class="nk">
<rect width="188.5" height="115" rx="10" fill="#00ff00"/>
<path d="M0,15H188.5M0,48.5H188.5M0,71H188.5M0,93.5H188.5M94.5,48.5V115" class="wl"/>
<text x="94.2" y="12.5">#520</text>
<text x="94.2" y="27.9">FG211. Professional</text>
<text x="94.2" y="45.9">Ethics</text>
<text x="47.2" y="65">Theory:1</text><text x="141.5" y="65">Mandatory</text>
<text x="47.2" y="88">Practice:2</text><text x="141.5" y="88">2 CR</text>
<text x="47.2" y="110">Laboratory:</text><text x="141.5" y="110">Pg.</text>
</g>
<g transform="translate(762,1765)" class="nw">
<rect width="188.5" height="138" rx="10" fill="#0000ff"/>
<path d="M0,17H188.5M0,69.5H188.5M0,93.5H188.5M0,116H188.5M99,69.5V138" class="wl"/>
<text x="94.2" y="12.7">#528</text>
<text x="94.2" y="30.3">CS3P1. Parallel and</text>
<text x="94.2" y="48">Distributed</text>
<text x="94.2" y="65.8">Computing</text>
<text x="49.5" y="86">Theory:2</text><text x="143.8" y="86">Mandatory</text>
<text x="49.5" y="110">Practice:2</text><text x="143.8" y="110">4 CR</text>
<text x="49.5" y="132.5">Laboratory:2</text><text x="143.8" y="132.5">Pg.</text>
</g>
<g transform="translate(994,1776)" class="nw">
<rect width="188.5" height="115" rx="10" fill="#0000ff"/>
<path d="M0,15H188.5M0,48.5H188.5M0,71H188.5M0,93.5H188.5M104,48.5V115" class="wl"/>
<text x="94.2" y="12.5">#523</text>
<text x="94.2" y="27.9">CS391. Software</text>
<text x="94.2" y="45.9">Engineering III</text>
<text x="52" y="65">Theory:2</text><text x="146.2" y="65">Elective</text>
<text x="52" y="88">Practice:2</text><text x="146.2" y="88">3 CR</text>
<text x="52" y="110">Laboratory:</text><text x="146.2" y="110">Pg.</text>
</g>
<g transform="translate(1205,1776)" class="nw">
<rect width="188.5" height="115" rx="10" fill="#0000ff"/>
<path d="M0,15H188.5M0,48.5H188.5M0,71H188.5M0,93.5H188.5M108.5,48.5V115" class="wl"/>
<text x="94.2" y="12.5">#524</text>
<text x="94.2" y="27.9">CS393. Information</text>
<text x="94.2" y="45.9">systems</text>
<text x="54.2" y="65">Theory:2</text><text x="148.5" y="65">Elective</text>
<text x="54.2" y="88">Practice:</text><text x="148.5" y="88">3 CR</text>
<text x="54.2" y="110">Laboratory:2</text><text x="148.5" y="110">Pg.</text>
</g>
<g transform="translate(1415.5,1776)" class="nw">
<rect width="188.5" height="115" rx="10" fill="#a020f0"/>
<path d="M0,15H188.5M0,48.5H188.5M0,71H188.5M0,93.5H188.5M108.5,48.5V115" class="wl"/>
<text x="94.2" y="12.5">#525</text>
<text x="94.2" y="27.9">AI268. Computational</text>
<text x="94.2" y="45.9">Vision</text>
<text x="54.2" y="65">Theory:2</text><text x="148.5" y="65">Elective</text>
<text x="54.2" y="88">Practice:</text><text x="148.5" y="88">3 CR</text>
<text x="54.2" y="110">Laboratory:2</text><text x="148.5" y="110">Pg.</text>
</g>
<g transform="translate(1625.5,1776)" class="nw">
<rect width="188.5" height="115" rx="10" fill="#0000ff"/>
<path d="M0,15H188.5M0,48.5H188.5M0,71H188.5M0,93.5H188.5M99,48.5V115" class="wl"/>
<text x="94.2" y="12.5">#526</text>
<text x="94.2" y="27.9">CS3I1. Computer</text>
<text x="94.2" y="45.9">Security</text>
<text x="49.5" y="65">Theory:1</text><text x="143.8" y="65">Mandatory</text>
<text x="49.5" y="88">Practice:2</text><text x="143.8" y="88">3 CR</text>
<text x="49.5" y="110">Laboratory:2</text><text x="143.8" y="110">Pg.</text>
</g>
<g transform="translate(2364,1776)" class="nw">
<rect width="188.5" height="115" rx="10" fill="#0000ff"/>
<path d="M0,15H188.5M0,48.5H188.5M0,71H188.5M0,93.5H188.5M99,48.5V115" class="wl"/>
<text x="94.2" y="12.5">#769</text>
<text x="94.2" y="27.9">CS402. Capstone</text>
<text x="94.2" y="45.9">Project I</text>
<text x="49.5" y="65">Theory:1</text><text x="143.8" y="65">Mandatory</text>
<text x="49.5" y="88">Practice:</text><text x="143.8" y="88">3 CR</text>
<text x="49.5" y="110">Laboratory:4</text><text x="143.8" y="110">Pg.</text>
</g>
<g transform="translate(2701.5,1776)" class="nw">
<rect width="188.5" height="115" rx="10" fill="#0000ff"/>
<path d="M0,15H188.5M0,48.5H188.5M0,71H188.5M0,93.5H188.5M94.5,48.5V115" class="wl"/>
<text x="94.2" y="12.5">#529</text>
<text x="94.2" y="27.9">CS281. Computing in</text>
<text x="94.2" y="45.9">Society</text>
<text x="47.2" y="65">Theory:2</text><text x="141.5" y="65">Mandatory</text>
<text x="47.2" y="88">Practice:</text><text x="141.5" y="88">2 CR</text>
<text x="47.2" y="110">Laboratory:</text><text x="141.5" y="110">Pg.</text>
</g>
<g transform="translate(2912,1787.5)" class="nk">
<rect width="188.5" height="92" rx="10" fill="#00ff00"/>
<path d="M0,13H188.5M0,25.5H188.5M0,48H188.5M0,70.5H188.5M94.5,25.5V92" class="wl"/>
<text x="94.2" y="11.5">#531</text>
<text x="94.2" y="25">FG106. Theater</text>
<text x="47.2" y="43">Theory:1</text><text x="141.5" y="43">Mandatory</text>
<text x="47.2" y="65">Practice:2</text><text x="141.5" y="65">2 CR</text>
<text x="47.2" y="87">Laboratory:</text><text x="141.5" y="87">Pg.</text>
</g>
<g transform="translate(3123,1765)" class="nk">
<rect width="188.5" height="138" rx="10" fill="#00ff00"/>
<path d="M0,17H188.5M0,69.5H188.5M0,93.5H188.5M0,116H188.5M94.5,69.5V138" class="wl"/>
<text x="94.2" y="12.7">#530</text>
<text x="94.2" y="30.3">EX301.</text>
<text x="94.2" y="48">Extracurricular</text>
<text x="94.2" y="65.8">Activities</text>
<text x="47.2" y="86">Theory:1</text><text x="141.5" y="86">Mandatory</text>
<text x="47.2" y="110">Practice:2</text><text x="141.5" y="110">2 CR</text>
<text x="47.2" y="132.5">Laboratory:</text><text x="141.5" y="132.5">Pg.</text>
</g>
<g transform="translate(720,2008.5)" class="nw">
<rect width="188.5" height="92" rx="10" fill="#0000ff"/>
<path d="M0,13H188.5M0,25.5H188.5M0,48H188.5M0,70.5H188.5M99,25.5V92" class="wl"/>
<text x="94.2" y="11.5">#535</text>
<text x="94.2" y="25">CS370. Big Data</text>
<text x="49.5" y="43">Theory:1</text><text x="143.8" y="43">Mandatory</text>
<text x="49.5" y="65">Practice:2</text><text x="143.8" y="65">3 CR</text>
<text x="49.5" y="87">Laboratory:2</text><text x="143.8" y="87">Pg.</text>
</g>
<g transform="translate(930,1997)" class="nw">
<rect width="188.5" height="115" rx="10" fill="#0000ff"/>
<path d="M0,15H188.5M0,48.5H188.5M0,71H188.5M0,93.5H188.5M108.5,48.5V115" class="wl"/>
<text x="94.2" y="12.5">#536</text>
<text x="94.2" y="27.9">CS3P3. Internet of</text>
<text x="94.2" y="45.9">Things</text>
<text x="54.2" y="65">Theory:1</text><text x="148.5" y="65">Elective</text>
<text x="54.2" y="88">Practice:</text><text x="148.5" y="88">3 CR</text>
<text x="54.2" y="110">Laboratory:4</text><text x="148.5" y="110">Pg.</text>
</g>
<g transform="translate(1141,1985)" class="nw">
<rect width="188.5" height="138" rx="10" fill="#0000ff"/>
<path d="M0,17H188.5M0,69.5H188.5M0,93.5H188.5M0,116H188.5M108.5,69.5V138" class="wl"/>
<text x="94.2" y="12.7">#538</text>
<text x="94.2" y="30.3">CS392. Tópicos en</text>
<text x="94.2" y="48">Ingeniería de</text>
<text x="94.2" y="65.8">Software</text>
<text x="54.2" y="86">Theory:2</text><text x="148.5" y="86">Elective</text>
<text x="54.2" y="110">Practice:</text><text x="148.5" y="110">3 CR</text>
<text x="54.2" y="132.5">Laboratory:2</text><text x="148.5" y="132.5">Pg.</text>
</g>
<g transform="translate(1351,2008.5)" class="nw">
<rect width="188.5" height="92" rx="10" fill="#a020f0"/>
<path d="M0,13H188.5M0,25.5H188.5M0,48H188.5M0,70.5H188.5M108.5,25.5V92" class="wl"/>
<text x="94.2" y="11.5">#540</text>
<text x="94.2" y="25">AI369. Robotics</text>
<text x="54.2" y="43">Theory:2</text><text x="148.5" y="43">Elective</text>
<text x="54.2" y="65">Practice:</text><text x="148.5" y="65">3 CR</text>
<text x="54.2" y="87">Laboratory:2</text><text x="148.5" y="87">Pg.</text>
</g>
<g transform="translate(1561.5,1997)" class="nw">
<rect width="188.5" height="115" rx="10" fill="#0000ff"/>
<path d="M0,15H188.5M0,48.5H188.5M0,71H188.5M0,93.5H188.5M108.5,48.5V115" class="wl"/>
<text x="94.2" y="12.5">#534</text>
<text x="94.2" y="27.9">CS353. Quantum</text>
<text x="94.2" y="45.9">Computing</text>
<text x="54.2" y="65">Theory:2</text><text x="148.5" y="65">Elective</text>
<text x="54.2" y="88">Practice:</text><text x="148.5" y="88">3 CR</text>
<text x="54.2" y="110">Laboratory:2</text><text x="148.5" y="110">Pg.</text>
</g>
<g transform="translate(1772,1997)" class="nw">
<rect width="188.5" height="115" rx="10" fill="#0000ff"/>
<path d="M0,15H188.5M0,48.5H188.5M0,71H188.5M0,93.5H188.5M108.5,48.5V115" class="wl"/>
<text x="94.2" y="12.5">#537</text>
<text x="94.2" y="27.9">CS351. Topics in</text>
<text x="94.2" y="45.9">Computer Graphics</text>
<text x="54.2" y="65">Theory:2</text><text x="148.5" y="65">Elective</text>
<text x="54.2" y="88">Practice:</text><text x="148.5" y="88">3 CR</text>
<text x="54.2" y="110">Laboratory:2</text><text x="148.5" y="110">Pg.</text>
</g>
<g transform="translate(2026.5,1997)" class="nw">
<rect width="188.5" height="115" rx="10" fill="#a020f0"/>
<path d="M0,15H188.5M0,48.5H188.5M0,71H188.5M0,93.5H188.5M99,48.5V115" class="wl"/>
<text x="94.2" y="12.5">#541</text>
<text x="94.2" y="27.9">AI365. Advanced</text>
<text x="94.2" y="45.9">Generative AI Models</text>
<text x="49.5" y="65">Theory:2</text><text x="143.8" y="65">Mandatory</text>
<text x="49.5" y="88">Practice:</text><text x="143.8" y="88">4 CR</text>
<text x="49.5" y="110">Laboratory:4</text><text x="143.8" y="110">Pg.</text>
</g>
<g transform="translate(2364,1997)" class="nw">
<rect width="188.5" height="115" rx="10" fill="#0000ff"/>
<path d="M0,15H188.5M0,48.5H188.5M0,71H188.5M0,93.5H188.5M99,48.5V115" class="wl"/>
<text x="94.2" y="12.5">#539</text>
<text x="94.2" y="27.9">CS403. Capstone</text>
<text x="94.2" y="45.9">Project II</text>
<text x="49.5" y="65">Theory:1</text><text x="143.8" y="65">Mandatory</text>
<text x="49.5" y="88">Practice:</text><text x="143.8" y="88">3 CR</text>
<text x="49.5" y="110">Laboratory:4</text><text x="143.8" y="110">Pg.</text>
</g>
<g transform="translate(2574.5,1997)" class="nk">
<rect width="188.5" height="115" rx="10" fill="#bebebe"/>
<path d="M0,15H188.5M0,48.5H188.5M0,71H188.5M0,93.5H188.5M94.5,48.5V115" class="wl"/>
<text x="94.2" y="12.5">#542</text>
<text x="94.2" y="27.9">CB309.</text>
<text x="94.2" y="45.9">Bioinformatics</text>
<text x="47.2" y="65">Theory:2</text><text x="141.5" y="65">Mandatory</text>
<text x="47.2" y="88">Practice:4</text><text x="141.5" y="88">4 CR</text>
<text x="47.2" y="110">Laboratory:</text><text x="141.5" y="110">Pg.</text>
</g>
<g transform="translate(3273.5,1985)" class="nw">
<rect width="188.5" height="138" rx="10" fill="#0000ff"/>
<path d="M0,17H188.5M0,69.5H188.5M0,93.5H188.5M0,116H188.5M94.5,69.5V138" class="wl"/>
<text x="94.2" y="12.7">#533</text>
<text x="94.2" y="30.3">CS400.</text>
<text x="94.2" y="48">Pre-professional</text>
<text x="94.2" y="65.8">internships</text>
<text x="47.2" y="86">Theory:1</text><text x="141.5" y="86">Mandatory</text>
<text x="47.2" y="110">Practice:2</text><text x="141.5" y="110">2 CR</text>
<text x="47.2" y="132.5">Laboratory:</text><text x="141.5" y="132.5">Pg.</text>
</g>
<g transform="translate(720,2193)" class="nw">
<rect width="188.5" height="115" rx="10" fill="#0000ff"/>
<path d="M0,15H188.5M0,48.5H188.5M0,71H188.5M0,93.5H188.5M99,48.5V115" class="wl"/>
<text x="94.2" y="12.5">#545</text>
<text x="94.2" y="27.9">CS3P2. Cloud</text>
<text x="94.2" y="45.9">Computing</text>
<text x="49.5" y="65">Theory:1</text><text x="143.8" y="65">Mandatory</text>
<text x="49.5" y="88">Practice:2</text><text x="143.8" y="88">3 CR</text>
<text x="49.5" y="110">Laboratory:2</text><text x="143.8" y="110">Pg.</text>
</g>
<g transform="translate(1899,2193)" class="nw">
<rect width="188.5" height="115" rx="10" fill="#a020f0"/>
<path d="M0,15H188.5M0,48.5H188.5M0,71H188.5M0,93.5H188.5M99,48.5V115" class="wl"/>
<text x="94.2" y="12.5">#546</text>
<text x="94.2" y="27.9">AI368. Evolutionary</text>
<text x="94.2" y="45.9">Computing</text>
<text x="49.5" y="65">Theory:2</text><text x="143.8" y="65">Mandatory</text>
<text x="49.5" y="88">Practice:2</text><text x="143.8" y="88">4 CR</text>
<text x="49.5" y="110">Laboratory:2</text><text x="143.8" y="110">Pg.</text>
</g>
<g transform="translate(2153.5,2182)" class="nw">
<rect width="188.5" height="138" rx="10" fill="#a020f0"/>
<path d="M0,17H188.5M0,69.5H188.5M0,93.5H188.5M0,116H188.5M99,69.5V138" class="wl"/>
<text x="94.2" y="12.7">#547</text>
<text x="94.2" y="30.3">AI367. Topics in</text>
<text x="94.2" y="48">Artificial</text>
<text x="94.2" y="65.8">Intelligence</text>
<text x="49.5" y="86">Theory:2</text><text x="143.8" y="86">Mandatory</text>
<text x="49.5" y="110">Practice:2</text><text x="143.8" y="110">4 CR</text>
<text x="49.5" y="132.5">Laboratory:2</text><text x="143.8" y="132.5">Pg.</text>
</g>
<g transform="translate(2364,2193)" class="nw">
<rect width="188.5" height="115" rx="10" fill="#0000ff"/>
<path d="M0,15H188.5M0,48.5H188.5M0,71H188.5M0,93.5H188.5M99,48.5V115" class="wl"/>
<text x="94.2" y="12.5">#544</text>
<text x="94.2" y="27.9">CS404. Research</text>
<text x="94.2" y="45.9">Workshop</text>
<text x="49.5" y="65">Theory:1</text><text x="143.8" y="65">Mandatory</text>
<text x="49.5" y="88">Practice:</text><text x="143.8" y="88">3 CR</text>
<text x="49.5" y="110">Laboratory:4</text><text x="143.8" y="110">Pg.</text>
</g>
<g transform="translate(2912,2193)" class="nk">
<rect width="188.5" height="115" rx="10" fill="#00ff00"/>
<path d="M0,15H188.5M0,48.5H188.5M0,71H188.5M0,93.5H188.5M94.5,48.5V115" class="wl"/>
<text x="94.2" y="12.5">#548</text>
<text x="94.2" y="27.9">FG350. Leadership</text>
<text x="94.2" y="45.9">and Performance</text>
<text x="47.2" y="65">Theory:2</text><text x="141.5" y="65">Mandatory</text>
<text x="47.2" y="88">Practice:</text><text x="141.5" y="88">2 CR</text>
<text x="47.2" y="110">Laboratory:</text><text x="141.5" y="110">Pg.</text>
</g>
</g>
<g class="lg">
<ellipse cx="152.7" cy="151.5" rx="106.4" ry="143" fill="#fff" stroke="#7d0c12" stroke-width="1.6"/>
<ellipse cx="152.7" cy="151.5" rx="102.6" ry="139.2" fill="none" stroke="#7d0c12" stroke-width="1.6"/>
<ellipse cx="152.7" cy="151.5" rx="75.5" ry="107.5" fill="none" stroke="#7d0c12" stroke-width="1.6"/>
<defs><path id="lp1" d="M79.1,195.3 A80,112 0 1 1 225.2,198.8"/><path id="lp2" d="M74.8,231.8 A97.5,133.5 0 0 0 231.6,230"/><path id="lp3" d="M90.6,128.5 A64,95 0 0 1 143.8,57.4"/><path id="lp4" d="M181.8,66.9 A64,95 0 0 1 216.7,148.2"/></defs>
<text style="font-size:19.4px" textLength="386" lengthAdjust="spacingAndGlyphs"><textPath href="#lp1">UNIVERSIDAD NACIONAL DE INGENIERIA</textPath></text>
<text style="font-size:19px;letter-spacing:2.2px" xml:space="preserve"><textPath href="#lp2">LIMA  1876  PERU</textPath></text>
<text style="font-size:12.3px;letter-spacing:0.4px"><textPath href="#lp3">SCIENTIA</textPath></text>
<text style="font-size:12.3px;letter-spacing:0.4px"><textPath href="#lp4">ET LABOR</textPath></text>
<path d="M199.2,187.2 L207.8,187.3 L207.8,195.1 L199.2,195.2 L198.2,201.9 L206.3,204.6 L203.9,212 L195.7,209.5 L192.6,215.5 L199.5,220.6 L194.9,226.9 L187.9,222 L183.2,226.7 L188.1,233.7 L181.8,238.3 L176.7,231.4 L170.7,234.5 L173.2,242.7 L165.8,245.1 L163.1,237 L156.4,238 L156.3,246.6 L148.5,246.6 L148.4,238 L141.7,237 L139,245.1 L131.6,242.7 L134.1,234.5 L128.1,231.4 L123,238.3 L116.7,233.7 L121.6,226.7 L116.9,222 L109.9,226.9 L105.3,220.6 L112.2,215.5 L109.1,209.5 L100.9,212 L98.5,204.6 L106.6,201.9 L105.6,195.2 L97,195.1 L97,187.3 L105.6,187.2 L106.6,180.5 L98.5,177.8 L100.9,170.4 L109.1,172.9 L112.2,166.9 L105.3,161.8 L109.9,155.5 L116.9,160.4 L121.6,155.7 L116.7,148.7 L123,144.1 L128.1,151 L134.1,147.9 L131.6,139.7 L139,137.3 L141.7,145.4 L148.4,144.4 L148.5,135.8 L156.3,135.8 L156.4,144.4 L163.1,145.4 L165.8,137.3 L173.2,139.7 L170.7,147.9 L176.7,151 L181.8,144.1 L188.1,148.7 L183.2,155.7 L187.9,160.4 L194.9,155.5 L199.5,161.8 L192.6,166.9 L195.7,172.9 L203.9,170.4 L206.3,177.8 L198.2,180.5Z M116.4,191.2 a36,36 0 1,0 72,0 a36,36 0 1,0 -72,0Z" fill="#7d0c12" fill-rule="evenodd"/>
<g fill="#7d0c12">
<rect x="144.5" y="162.5" width="17" height="28.5" fill="none" stroke="#7d0c12" stroke-width="2.2"/>
<rect x="150" y="166" width="5.5" height="19" fill="#7d0c12"/>
<polygon points="132,193 175,193 181,203 125,203"/>
<polygon points="134.5,195.5 152,195.5 152,200.5 130.5,200.5" fill="#fff"/>
<rect x="147.5" y="203" width="10" height="24" fill="#7d0c12"/>
<rect x="151" y="214" width="2.5" height="13" fill="#fff"/>
<path d="M143,205 L131,222 M146,207 L137,224 M163,205 L174,222 M160,207 L168,224" stroke="#7d0c12" stroke-width="1.8"/>
</g>
<path d="M93,149 Q100,138 113,135 Q101,146 97,161 Z M216,149 Q209,138 196,135 Q208,146 212,161 Z" fill="#7d0c12"/>
<path d="M96,147 L131,176 M213,147 L174,176" stroke="#7d0c12" stroke-width="4.6"/>
<path d="M174.7,69.8 C172,58 163,54 155,54.1 C142,54.5 132.5,64 132.7,78 C132.8,87 134.5,93 137.1,97.5 C144,100.5 152,99 157.2,95.6 C158,88 160,80 163.8,72.7 C167,71 171,70.5 174.7,69.8 Z" fill="#7d0c12"/>
<path d="M157,56.5 C149.5,59.5 144,68 144.2,82" fill="none" stroke="#fff" stroke-width="2.6"/>
<path d="M174.5,70 C175,75 174.3,79 176.3,85 L173.8,87.3 L174.6,90 L172.8,92.3 C173.5,96 172,98.8 168,98.6 C165,98.5 163,99.5 161.9,101.3" fill="none" stroke="#7d0c12" stroke-width="1.1"/>
<path d="M168.5,77.5 l4.5,0.8" stroke="#7d0c12" stroke-width="1"/>
<path d="M142.8,103.2 L132.3,125.2 C146,121.3 160,121.3 173.4,125.2 C167,118 163,110 161.9,101.3 C156,103.8 149,104.5 142.8,103.2 Z" fill="#7d0c12"/>
</g>
<text x="284.6" y="110.9" class="b" textLength="583.5" lengthAdjust="spacingAndGlyphs" style="font-size:50px">School of Computer Science</text>
<text x="879" y="110.9" class="b" textLength="1440.5" lengthAdjust="spacingAndGlyphs" style="font-size:40.5px">https://portal.uni.edu.pe/index.php/facultades/ciencias/ciencia-de-la-computacion</text>
<rect x="287.8" y="132.8" width="1307.8" height="163.8" fill="#000"/>
<rect x="283.6" y="128.6" width="1307.8" height="163.8" fill="#fff" stroke="#777" stroke-width="1"/>
<text x="303" y="164.5" class="b" textLength="141" lengthAdjust="spacingAndGlyphs" style="font-size:40px">Mission:</text>
<text x="472" y="164.5" class="bd" textLength="1099.8" lengthAdjust="spacingAndGlyphs">To contribute to the scientific, technological and technical development of the country forming competent professionals</text>
<text x="302.6" y="204.4" class="bd" textLength="1269.2" lengthAdjust="spacingAndGlyphs">oriented to the creation of new science and computational technology, as engine that impels and consolidates the software industry based on</text>
<text x="302.6" y="243.8" class="bd" textLength="1269.2" lengthAdjust="spacingAndGlyphs">scientific research and technological in innovative areas, forming, IN OUR professionals, a set of skills for solving computational problems</text>
<text x="302.6" y="283.4" class="bd" textLength="242.2" lengthAdjust="spacingAndGlyphs">with a social commitment.</text>
<rect x="1614.7" y="127.6" width="1894.5" height="186.8" fill="#000"/>
<rect x="1610.5" y="123.4" width="1894.5" height="186.8" fill="#fff" stroke="#777" stroke-width="1"/>
<text x="1630" y="158.6" class="b" textLength="180" lengthAdjust="spacingAndGlyphs" style="font-size:40px">Definition:</text>
<text x="1823" y="158.6" class="bd" textLength="1672.5" lengthAdjust="spacingAndGlyphs">The professional profile of this professional program can be better understood from  figures on the right side. This professional has Computing as the center of his studies. That is, it</text>
<text x="1629.6" y="187.5" class="bd" textLength="1865.9" lengthAdjust="spacingAndGlyphs">has computating as an end and not as a means. According to the definition of this area, this professional is called directly to be a promoter of the development of new computational techniques that can</text>
<text x="1629.6" y="216.4" class="bd" textLength="459.9" lengthAdjust="spacingAndGlyphs">be useful at local, national and international level.</text>
<text x="1629.6" y="256.9" class="bd" textLength="1865.9" lengthAdjust="spacingAndGlyphs">Our professional profile is aimed at generating jobs through permanent innovation. Our professional training has three fundamental pillars: a content according to ACM/IEEE-CS Computing Curricula</text>
<text x="1629.6" y="296.9" class="bd" textLength="768.4" lengthAdjust="spacingAndGlyphs">CC2020 and CS2023, a marked orientation to innovation and human oriented skills.</text>
<rect x="41.5" y="2421.5" width="2247.5" height="396" fill="#000"/>
<rect x="37.5" y="2417.5" width="2247.5" height="396" fill="#fff" stroke="#555" stroke-width="1"/>
<rect x="66" y="2561.5" width="2190.5" height="21" fill="#cccccc"/>
<rect x="66" y="2603.5" width="2190.5" height="21" fill="#cccccc"/>
<rect x="66" y="2666.5" width="2190.5" height="21" fill="#cccccc"/>
<rect x="66" y="2729.5" width="2190.5" height="63" fill="#cccccc"/>
<rect x="579.5" y="2437.5" width="150.2" height="21" fill="#cccccc"/>
<text x="654.6" y="2452.3" class="cl" text-anchor="middle" fill="#222">First Sem</text>
<text x="804.8" y="2452.3" class="cl" text-anchor="middle" fill="#222">Second Sem</text>
<rect x="879.9" y="2437.5" width="150.2" height="21" fill="#cccccc"/>
<text x="955" y="2452.3" class="cl" text-anchor="middle" fill="#222">Third Sem</text>
<text x="1117.6" y="2452.3" class="cl" text-anchor="middle" fill="#222">Fourth Sem</text>
<rect x="1205.2" y="2437.5" width="150.2" height="21" fill="#cccccc"/>
<text x="1280.3" y="2452.3" class="cl" text-anchor="middle" fill="#222">Fifth Sem</text>
<text x="1430.5" y="2452.3" class="cl" text-anchor="middle" fill="#222">Sixth Sem</text>
<rect x="1505.6" y="2437.5" width="150.2" height="21" fill="#cccccc"/>
<text x="1580.7" y="2452.3" class="cl" text-anchor="middle" fill="#222">Seventh Sem</text>
<text x="1768.4" y="2452.3" class="cl" text-anchor="middle" fill="#222">Eighth Sem</text>
<rect x="1881.1" y="2437.5" width="250.3" height="21" fill="#cccccc"/>
<text x="2006.2" y="2452.3" class="cl" text-anchor="middle" fill="#222">Ninth Sem</text>
<text x="2193.9" y="2452.3" class="cl" text-anchor="middle" fill="#222">Tenth Sem</text>
<rect x="579.5" y="2458.5" width="25" height="334" fill="#cccccc"/>
<rect x="629.6" y="2458.5" width="25" height="334" fill="#cccccc"/>
<rect x="679.6" y="2458.5" width="25" height="334" fill="#cccccc"/>
<rect x="729.7" y="2458.5" width="25" height="334" fill="#cccccc"/>
<rect x="779.7" y="2458.5" width="25" height="334" fill="#cccccc"/>
<rect x="829.8" y="2458.5" width="25" height="334" fill="#cccccc"/>
<rect x="879.9" y="2458.5" width="25" height="334" fill="#cccccc"/>
<rect x="929.9" y="2458.5" width="25" height="334" fill="#cccccc"/>
<rect x="980" y="2458.5" width="25" height="334" fill="#cccccc"/>
<rect x="1030" y="2458.5" width="25" height="334" fill="#cccccc"/>
<rect x="1080.1" y="2458.5" width="25" height="334" fill="#cccccc"/>
<rect x="1130.2" y="2458.5" width="25" height="334" fill="#cccccc"/>
<rect x="1180.2" y="2458.5" width="25" height="334" fill="#cccccc"/>
<rect x="1230.3" y="2458.5" width="25" height="334" fill="#cccccc"/>
<rect x="1280.3" y="2458.5" width="25" height="334" fill="#cccccc"/>
<rect x="1330.4" y="2458.5" width="25" height="334" fill="#cccccc"/>
<rect x="1380.5" y="2458.5" width="25" height="334" fill="#cccccc"/>
<rect x="1430.5" y="2458.5" width="25" height="334" fill="#cccccc"/>
<rect x="1480.6" y="2458.5" width="25" height="334" fill="#cccccc"/>
<rect x="1530.6" y="2458.5" width="25" height="334" fill="#cccccc"/>
<rect x="1580.7" y="2458.5" width="25" height="334" fill="#cccccc"/>
<rect x="1630.8" y="2458.5" width="25" height="334" fill="#cccccc"/>
<rect x="1680.8" y="2458.5" width="25" height="334" fill="#cccccc"/>
<rect x="1730.9" y="2458.5" width="25" height="334" fill="#cccccc"/>
<rect x="1780.9" y="2458.5" width="25" height="334" fill="#cccccc"/>
<rect x="1831" y="2458.5" width="25" height="334" fill="#cccccc"/>
<rect x="1881.1" y="2458.5" width="25" height="334" fill="#cccccc"/>
<rect x="1931.1" y="2458.5" width="25" height="334" fill="#cccccc"/>
<rect x="1981.2" y="2458.5" width="25" height="334" fill="#cccccc"/>
<rect x="2031.2" y="2458.5" width="25" height="334" fill="#cccccc"/>
<rect x="2081.3" y="2458.5" width="25" height="334" fill="#cccccc"/>
<rect x="2131.4" y="2458.5" width="25" height="334" fill="#cccccc"/>
<rect x="2181.4" y="2458.5" width="25" height="334" fill="#cccccc"/>
<rect x="2231.5" y="2458.5" width="25" height="334" fill="#cccccc"/>
<path d="M604.5,2561.5V2792.5M629.6,2561.5V2792.5M654.6,2561.5V2792.5M679.6,2561.5V2792.5M704.6,2561.5V2792.5M729.7,2561.5V2792.5M754.7,2561.5V2792.5M779.7,2561.5V2792.5M804.8,2561.5V2792.5M829.8,2561.5V2792.5M854.8,2561.5V2792.5M879.9,2561.5V2792.5M904.9,2561.5V2792.5M929.9,2561.5V2792.5M955,2561.5V2792.5M980,2561.5V2792.5M1005,2561.5V2792.5M1030,2561.5V2792.5M1055.1,2561.5V2792.5M1080.1,2561.5V2792.5M1105.1,2561.5V2792.5M1130.2,2561.5V2792.5M1155.2,2561.5V2792.5M1180.2,2561.5V2792.5M1205.2,2561.5V2792.5M1230.3,2561.5V2792.5M1255.3,2561.5V2792.5M1280.3,2561.5V2792.5M1305.4,2561.5V2792.5M1330.4,2561.5V2792.5M1355.4,2561.5V2792.5M1380.5,2561.5V2792.5M1405.5,2561.5V2792.5M1430.5,2561.5V2792.5M1455.6,2561.5V2792.5M1480.6,2561.5V2792.5M1505.6,2561.5V2792.5M1530.6,2561.5V2792.5M1555.7,2561.5V2792.5M1580.7,2561.5V2792.5M1605.7,2561.5V2792.5M1630.8,2561.5V2792.5M1655.8,2561.5V2792.5M1680.8,2561.5V2792.5M1705.9,2561.5V2792.5M1730.9,2561.5V2792.5M1755.9,2561.5V2792.5M1780.9,2561.5V2792.5M1806,2561.5V2792.5M1831,2561.5V2792.5M1856,2561.5V2792.5M1881.1,2561.5V2792.5M1906.1,2561.5V2792.5M1931.1,2561.5V2792.5M1956.2,2561.5V2792.5M1981.2,2561.5V2792.5M2006.2,2561.5V2792.5M2031.2,2561.5V2792.5M2056.3,2561.5V2792.5M2081.3,2561.5V2792.5M2106.3,2561.5V2792.5M2131.4,2561.5V2792.5M2156.4,2561.5V2792.5M2181.4,2561.5V2792.5M2206.4,2561.5V2792.5M2231.5,2561.5V2792.5" stroke="#d6d6d6" stroke-width="0.7" fill="none"/>
<rect x="584" y="2476.2" width="16.5" height="47.8" fill="#0000ff"/>
<text transform="translate(597.8,2521.5) rotate(-90)" class="cl" fill="#fff" textLength="42.8" lengthAdjust="spacingAndGlyphs">CS111</text>
<rect x="609" y="2459.7" width="16.5" height="64.3" fill="#c4c4c4"/>
<text transform="translate(622.8,2521.5) rotate(-90)" class="cl" fill="#000" textLength="59.3" lengthAdjust="spacingAndGlyphs">BMA101</text>
<rect x="634.1" y="2459.7" width="16.5" height="64.3" fill="#c4c4c4"/>
<text transform="translate(647.9,2521.5) rotate(-90)" class="cl" fill="#000" textLength="59.3" lengthAdjust="spacingAndGlyphs">BMA102</text>
<rect x="659.1" y="2463.3" width="16.5" height="60.7" fill="#c4c4c4"/>
<text transform="translate(672.9,2521.5) rotate(-90)" class="cl" fill="#000" textLength="55.7" lengthAdjust="spacingAndGlyphs">BCH101</text>
<rect x="684.1" y="2473.5" width="16.5" height="50.5" fill="#00ff00"/>
<text transform="translate(697.9,2521.5) rotate(-90)" class="cl" fill="#000" textLength="45.5" lengthAdjust="spacingAndGlyphs">FG001</text>
<rect x="709.2" y="2469.3" width="16.5" height="54.7" fill="#f08080"/>
<text transform="translate(723,2521.5) rotate(-90)" class="cl" fill="#000" textLength="49.7" lengthAdjust="spacingAndGlyphs">BEI101</text>
<rect x="734.2" y="2476.2" width="16.5" height="47.8" fill="#0000ff"/>
<text transform="translate(748,2521.5) rotate(-90)" class="cl" fill="#fff" textLength="42.8" lengthAdjust="spacingAndGlyphs">CS100</text>
<rect x="759.2" y="2476.2" width="16.5" height="47.8" fill="#0000ff"/>
<text transform="translate(773,2521.5) rotate(-90)" class="cl" fill="#fff" textLength="42.8" lengthAdjust="spacingAndGlyphs">CS112</text>
<rect x="784.3" y="2472.5" width="16.5" height="51.5" fill="#0000ff"/>
<text transform="translate(798.1,2521.5) rotate(-90)" class="cl" fill="#fff" textLength="46.5" lengthAdjust="spacingAndGlyphs">CS1D1</text>
<rect x="809.3" y="2459.7" width="16.5" height="64.3" fill="#c4c4c4"/>
<text transform="translate(823.1,2521.5) rotate(-90)" class="cl" fill="#000" textLength="59.3" lengthAdjust="spacingAndGlyphs">BMA103</text>
<rect x="834.3" y="2469.8" width="16.5" height="54.2" fill="#c4c4c4"/>
<text transform="translate(848.1,2521.5) rotate(-90)" class="cl" fill="#000" textLength="49.2" lengthAdjust="spacingAndGlyphs">BFI101</text>
<rect x="859.3" y="2469.3" width="16.5" height="54.7" fill="#f08080"/>
<text transform="translate(873.1,2521.5) rotate(-90)" class="cl" fill="#000" textLength="49.7" lengthAdjust="spacingAndGlyphs">BEI102</text>
<rect x="884.4" y="2476.2" width="16.5" height="47.8" fill="#0000ff"/>
<text transform="translate(898.2,2521.5) rotate(-90)" class="cl" fill="#fff" textLength="42.8" lengthAdjust="spacingAndGlyphs">CS113</text>
<rect x="909.4" y="2473.9" width="16.5" height="50.1" fill="#0000ff"/>
<text transform="translate(923.2,2521.5) rotate(-90)" class="cl" fill="#fff" textLength="45.1" lengthAdjust="spacingAndGlyphs">CS2B1</text>
<rect x="934.4" y="2478.5" width="16.5" height="45.5" fill="#a020f0"/>
<text transform="translate(948.2,2521.5) rotate(-90)" class="cl" fill="#fff" textLength="40.5" lengthAdjust="spacingAndGlyphs">AI161</text>
<rect x="959.5" y="2459.7" width="16.5" height="64.3" fill="#c4c4c4"/>
<text transform="translate(973.3,2521.5) rotate(-90)" class="cl" fill="#000" textLength="59.3" lengthAdjust="spacingAndGlyphs">BMA104</text>
<rect x="984.5" y="2475.8" width="16.5" height="48.2" fill="#c4c4c4"/>
<text transform="translate(998.3,2521.5) rotate(-90)" class="cl" fill="#000" textLength="43.2" lengthAdjust="spacingAndGlyphs">ST251</text>
<rect x="1009.5" y="2469.3" width="16.5" height="54.7" fill="#f08080"/>
<text transform="translate(1023.3,2521.5) rotate(-90)" class="cl" fill="#000" textLength="49.7" lengthAdjust="spacingAndGlyphs">BEI201</text>
<rect x="1034.6" y="2476.2" width="16.5" height="47.8" fill="#0000ff"/>
<text transform="translate(1048.4,2521.5) rotate(-90)" class="cl" fill="#fff" textLength="42.8" lengthAdjust="spacingAndGlyphs">CS210</text>
<rect x="1059.6" y="2476.2" width="16.5" height="47.8" fill="#0000ff"/>
<text transform="translate(1073.4,2521.5) rotate(-90)" class="cl" fill="#fff" textLength="42.8" lengthAdjust="spacingAndGlyphs">CS211</text>
<rect x="1084.6" y="2476.2" width="16.5" height="47.8" fill="#0000ff"/>
<text transform="translate(1098.4,2521.5) rotate(-90)" class="cl" fill="#fff" textLength="42.8" lengthAdjust="spacingAndGlyphs">CS221</text>
<rect x="1109.6" y="2476.2" width="16.5" height="47.8" fill="#0000ff"/>
<text transform="translate(1123.4,2521.5) rotate(-90)" class="cl" fill="#fff" textLength="42.8" lengthAdjust="spacingAndGlyphs">CS271</text>
<rect x="1134.7" y="2476.2" width="16.5" height="47.8" fill="#0000ff"/>
<text transform="translate(1148.5,2521.5) rotate(-90)" class="cl" fill="#fff" textLength="42.8" lengthAdjust="spacingAndGlyphs">CS401</text>
<rect x="1159.7" y="2469.8" width="16.5" height="54.2" fill="#c4c4c4"/>
<text transform="translate(1173.5,2521.5) rotate(-90)" class="cl" fill="#000" textLength="49.2" lengthAdjust="spacingAndGlyphs">MA202</text>
<rect x="1184.7" y="2469.3" width="16.5" height="54.7" fill="#f08080"/>
<text transform="translate(1198.5,2521.5) rotate(-90)" class="cl" fill="#000" textLength="49.7" lengthAdjust="spacingAndGlyphs">BEI202</text>
<rect x="1209.8" y="2476.2" width="16.5" height="47.8" fill="#0000ff"/>
<text transform="translate(1223.6,2521.5) rotate(-90)" class="cl" fill="#fff" textLength="42.8" lengthAdjust="spacingAndGlyphs">CS212</text>
<rect x="1234.8" y="2476.2" width="16.5" height="47.8" fill="#0000ff"/>
<text transform="translate(1248.6,2521.5) rotate(-90)" class="cl" fill="#fff" textLength="42.8" lengthAdjust="spacingAndGlyphs">CS261</text>
<rect x="1259.8" y="2476.2" width="16.5" height="47.8" fill="#0000ff"/>
<text transform="translate(1273.6,2521.5) rotate(-90)" class="cl" fill="#fff" textLength="42.8" lengthAdjust="spacingAndGlyphs">CS272</text>
<rect x="1284.9" y="2476.2" width="16.5" height="47.8" fill="#0000ff"/>
<text transform="translate(1298.7,2521.5) rotate(-90)" class="cl" fill="#fff" textLength="42.8" lengthAdjust="spacingAndGlyphs">CS291</text>
<rect x="1309.9" y="2475.3" width="16.5" height="48.7" fill="#0000ff"/>
<text transform="translate(1323.7,2521.5) rotate(-90)" class="cl" fill="#fff" textLength="43.7" lengthAdjust="spacingAndGlyphs">CS2S1</text>
<rect x="1334.9" y="2469.3" width="16.5" height="54.7" fill="#f08080"/>
<text transform="translate(1348.7,2521.5) rotate(-90)" class="cl" fill="#000" textLength="49.7" lengthAdjust="spacingAndGlyphs">BEI203</text>
<rect x="1359.9" y="2476.2" width="16.5" height="47.8" fill="#0000ff"/>
<text transform="translate(1373.7,2521.5) rotate(-90)" class="cl" fill="#fff" textLength="42.8" lengthAdjust="spacingAndGlyphs">CS231</text>
<rect x="1385" y="2476.2" width="16.5" height="47.8" fill="#0000ff"/>
<text transform="translate(1398.8,2521.5) rotate(-90)" class="cl" fill="#fff" textLength="42.8" lengthAdjust="spacingAndGlyphs">CS311</text>
<rect x="1410" y="2476.2" width="16.5" height="47.8" fill="#0000ff"/>
<text transform="translate(1423.8,2521.5) rotate(-90)" class="cl" fill="#fff" textLength="42.8" lengthAdjust="spacingAndGlyphs">CS312</text>
<rect x="1435" y="2476.2" width="16.5" height="47.8" fill="#0000ff"/>
<text transform="translate(1448.8,2521.5) rotate(-90)" class="cl" fill="#fff" textLength="42.8" lengthAdjust="spacingAndGlyphs">CS342</text>
<rect x="1460.1" y="2478.5" width="16.5" height="45.5" fill="#a020f0"/>
<text transform="translate(1473.9,2521.5) rotate(-90)" class="cl" fill="#fff" textLength="40.5" lengthAdjust="spacingAndGlyphs">AI263</text>
<rect x="1485.1" y="2479.9" width="16.5" height="44.1" fill="#c4c4c4"/>
<text transform="translate(1498.9,2521.5) rotate(-90)" class="cl" fill="#000" textLength="39.1" lengthAdjust="spacingAndGlyphs">FI201</text>
<rect x="1510.1" y="2476.2" width="16.5" height="47.8" fill="#0000ff"/>
<text transform="translate(1523.9,2521.5) rotate(-90)" class="cl" fill="#fff" textLength="42.8" lengthAdjust="spacingAndGlyphs">CS251</text>
<rect x="1535.2" y="2476.2" width="16.5" height="47.8" fill="#0000ff"/>
<text transform="translate(1549,2521.5) rotate(-90)" class="cl" fill="#fff" textLength="42.8" lengthAdjust="spacingAndGlyphs">CS292</text>
<rect x="1560.2" y="2472.5" width="16.5" height="51.5" fill="#0000ff"/>
<text transform="translate(1574,2521.5) rotate(-90)" class="cl" fill="#fff" textLength="46.5" lengthAdjust="spacingAndGlyphs">CS2H1</text>
<rect x="1585.2" y="2478.5" width="16.5" height="45.5" fill="#a020f0"/>
<text transform="translate(1599,2521.5) rotate(-90)" class="cl" fill="#fff" textLength="40.5" lengthAdjust="spacingAndGlyphs">AI264</text>
<rect x="1610.2" y="2469.8" width="16.5" height="54.2" fill="#c4c4c4"/>
<text transform="translate(1624,2521.5) rotate(-90)" class="cl" fill="#000" textLength="49.2" lengthAdjust="spacingAndGlyphs">BBI101</text>
<rect x="1635.3" y="2473.5" width="16.5" height="50.5" fill="#00ff00"/>
<text transform="translate(1649.1,2521.5) rotate(-90)" class="cl" fill="#000" textLength="45.5" lengthAdjust="spacingAndGlyphs">FG211</text>
<rect x="1660.3" y="2476.2" width="16.5" height="47.8" fill="#0000ff"/>
<text transform="translate(1674.1,2521.5) rotate(-90)" class="cl" fill="#fff" textLength="42.8" lengthAdjust="spacingAndGlyphs">CS281</text>
<rect x="1685.3" y="2478.5" width="16.5" height="45.5" fill="#0000ff"/>
<text transform="translate(1699.1,2521.5) rotate(-90)" class="cl" fill="#fff" textLength="40.5" lengthAdjust="spacingAndGlyphs">CS3I1</text>
<rect x="1710.4" y="2473.9" width="16.5" height="50.1" fill="#0000ff"/>
<text transform="translate(1724.2,2521.5) rotate(-90)" class="cl" fill="#fff" textLength="45.1" lengthAdjust="spacingAndGlyphs">CS3P1</text>
<rect x="1735.4" y="2476.2" width="16.5" height="47.8" fill="#0000ff"/>
<text transform="translate(1749.2,2521.5) rotate(-90)" class="cl" fill="#fff" textLength="42.8" lengthAdjust="spacingAndGlyphs">CS402</text>
<rect x="1760.4" y="2473.5" width="16.5" height="50.5" fill="#00ff00"/>
<text transform="translate(1774.2,2521.5) rotate(-90)" class="cl" fill="#000" textLength="45.5" lengthAdjust="spacingAndGlyphs">FG106</text>
<rect x="1785.5" y="2473.5" width="16.5" height="50.5" fill="#00ff00"/>
<text transform="translate(1799.3,2521.5) rotate(-90)" class="cl" fill="#000" textLength="45.5" lengthAdjust="spacingAndGlyphs">EX301</text>
<rect x="1810.5" y="2478.5" width="16.5" height="45.5" fill="#a020f0"/>
<text transform="translate(1824.3,2521.5) rotate(-90)" class="cl" fill="#fff" textLength="40.5" lengthAdjust="spacingAndGlyphs">AI268</text>
<rect x="1835.5" y="2476.2" width="16.5" height="47.8" fill="#0000ff"/>
<text transform="translate(1849.3,2521.5) rotate(-90)" class="cl" fill="#fff" textLength="42.8" lengthAdjust="spacingAndGlyphs">CS391</text>
<rect x="1860.5" y="2476.2" width="16.5" height="47.8" fill="#0000ff"/>
<text transform="translate(1874.3,2521.5) rotate(-90)" class="cl" fill="#fff" textLength="42.8" lengthAdjust="spacingAndGlyphs">CS393</text>
<rect x="1885.6" y="2476.2" width="16.5" height="47.8" fill="#0000ff"/>
<text transform="translate(1899.4,2521.5) rotate(-90)" class="cl" fill="#fff" textLength="42.8" lengthAdjust="spacingAndGlyphs">CS370</text>
<rect x="1910.6" y="2476.2" width="16.5" height="47.8" fill="#0000ff"/>
<text transform="translate(1924.4,2521.5) rotate(-90)" class="cl" fill="#fff" textLength="42.8" lengthAdjust="spacingAndGlyphs">CS400</text>
<rect x="1935.6" y="2476.2" width="16.5" height="47.8" fill="#0000ff"/>
<text transform="translate(1949.4,2521.5) rotate(-90)" class="cl" fill="#fff" textLength="42.8" lengthAdjust="spacingAndGlyphs">CS403</text>
<rect x="1960.7" y="2478.5" width="16.5" height="45.5" fill="#a020f0"/>
<text transform="translate(1974.5,2521.5) rotate(-90)" class="cl" fill="#fff" textLength="40.5" lengthAdjust="spacingAndGlyphs">AI365</text>
<rect x="1985.7" y="2474.8" width="16.5" height="49.2" fill="#c4c4c4"/>
<text transform="translate(1999.5,2521.5) rotate(-90)" class="cl" fill="#000" textLength="44.2" lengthAdjust="spacingAndGlyphs">CB309</text>
<rect x="2010.7" y="2476.2" width="16.5" height="47.8" fill="#0000ff"/>
<text transform="translate(2024.5,2521.5) rotate(-90)" class="cl" fill="#fff" textLength="42.8" lengthAdjust="spacingAndGlyphs">CS351</text>
<rect x="2035.8" y="2476.2" width="16.5" height="47.8" fill="#0000ff"/>
<text transform="translate(2049.6,2521.5) rotate(-90)" class="cl" fill="#fff" textLength="42.8" lengthAdjust="spacingAndGlyphs">CS353</text>
<rect x="2060.8" y="2478.5" width="16.5" height="45.5" fill="#a020f0"/>
<text transform="translate(2074.6,2521.5) rotate(-90)" class="cl" fill="#fff" textLength="40.5" lengthAdjust="spacingAndGlyphs">AI369</text>
<rect x="2085.8" y="2476.2" width="16.5" height="47.8" fill="#0000ff"/>
<text transform="translate(2099.6,2521.5) rotate(-90)" class="cl" fill="#fff" textLength="42.8" lengthAdjust="spacingAndGlyphs">CS392</text>
<rect x="2110.8" y="2473.9" width="16.5" height="50.1" fill="#0000ff"/>
<text transform="translate(2124.6,2521.5) rotate(-90)" class="cl" fill="#fff" textLength="45.1" lengthAdjust="spacingAndGlyphs">CS3P3</text>
<rect x="2135.9" y="2473.9" width="16.5" height="50.1" fill="#0000ff"/>
<text transform="translate(2149.7,2521.5) rotate(-90)" class="cl" fill="#fff" textLength="45.1" lengthAdjust="spacingAndGlyphs">CS3P2</text>
<rect x="2160.9" y="2476.2" width="16.5" height="47.8" fill="#0000ff"/>
<text transform="translate(2174.7,2521.5) rotate(-90)" class="cl" fill="#fff" textLength="42.8" lengthAdjust="spacingAndGlyphs">CS404</text>
<rect x="2185.9" y="2478.5" width="16.5" height="45.5" fill="#a020f0"/>
<text transform="translate(2199.7,2521.5) rotate(-90)" class="cl" fill="#fff" textLength="40.5" lengthAdjust="spacingAndGlyphs">AI367</text>
<rect x="2211" y="2478.5" width="16.5" height="45.5" fill="#a020f0"/>
<text transform="translate(2224.8,2521.5) rotate(-90)" class="cl" fill="#fff" textLength="40.5" lengthAdjust="spacingAndGlyphs">AI368</text>
<rect x="2236" y="2473.5" width="16.5" height="50.5" fill="#00ff00"/>
<text transform="translate(2249.8,2521.5) rotate(-90)" class="cl" fill="#000" textLength="45.5" lengthAdjust="spacingAndGlyphs">FG350</text>
<g class="mx" fill="#222">
<text x="594.4" y="2577">2</text>
<text x="592" y="2703">3</text>
<text x="619.4" y="2577">3</text>
<text x="617" y="2703">2</text>
<text x="644.5" y="2577">3</text>
<text x="642.1" y="2703">2</text>
<text x="669.5" y="2577">2</text>
<text x="667.1" y="2703">1</text>
<text x="694.5" y="2619">1</text>
<text x="692.1" y="2640">2</text>
<text x="719.6" y="2619">3</text>
<text x="717.2" y="2703">1</text>
<text x="744.6" y="2577">2</text>
<text x="742.2" y="2703">3</text>
<text x="767.2" y="2598">2</text>
<text x="767.2" y="2703">3</text>
<text x="794.7" y="2577">2</text>
<text x="792.3" y="2703">2</text>
<text x="819.7" y="2577">2</text>
<text x="817.3" y="2703">1</text>
<text x="844.7" y="2577">3</text>
<text x="842.3" y="2703">2</text>
<text x="869.7" y="2619">2</text>
<text x="869.7" y="2682">2</text>
<text x="867.3" y="2703">2</text>
<text x="892.4" y="2598">2</text>
<text x="894.8" y="2682">1</text>
<text x="892.4" y="2703">3</text>
<text x="917.4" y="2598">3</text>
<text x="917.4" y="2703">2</text>
<text x="942.4" y="2598">2</text>
<text x="942.4" y="2640">2</text>
<text x="942.4" y="2703">2</text>
<text x="969.9" y="2577">3</text>
<text x="967.5" y="2703">2</text>
<text x="994.9" y="2577">3</text>
<text x="992.5" y="2703">3</text>
<text x="1019.9" y="2619">2</text>
<text x="1019.9" y="2682">2</text>
<text x="1017.5" y="2703">2</text>
<text x="1045" y="2577">3</text>
<text x="1042.6" y="2598">1</text>
<text x="1042.6" y="2703">2</text>
<text x="1070" y="2577">2</text>
<text x="1067.6" y="2703">3</text>
<text x="1095" y="2577">2</text>
<text x="1092.6" y="2703">3</text>
<text x="1117.6" y="2598">2</text>
<text x="1117.6" y="2703">3</text>
<text x="1145.1" y="2577">2</text>
<text x="1145.1" y="2619">2</text>
<text x="1142.7" y="2640">2</text>
<text x="1145.1" y="2745">3</text>
<text x="1170.1" y="2577">3</text>
<text x="1167.7" y="2703">3</text>
<text x="1195.1" y="2619">3</text>
<text x="1195.1" y="2682">2</text>
<text x="1192.7" y="2703">2</text>
<text x="1220.2" y="2577">3</text>
<text x="1217.8" y="2598">2</text>
<text x="1217.8" y="2703">1</text>
<text x="1245.2" y="2577">1</text>
<text x="1242.8" y="2598">2</text>
<text x="1242.8" y="2703">3</text>
<text x="1267.8" y="2598">3</text>
<text x="1267.8" y="2703">2</text>
<text x="1292.9" y="2598">2</text>
<text x="1295.3" y="2682">1</text>
<text x="1292.9" y="2703">3</text>
<text x="1320.3" y="2577">1</text>
<text x="1317.9" y="2598">2</text>
<text x="1317.9" y="2703">3</text>
<text x="1345.3" y="2619">3</text>
<text x="1345.3" y="2682">3</text>
<text x="1342.9" y="2703">3</text>
<text x="1370.3" y="2577">1</text>
<text x="1367.9" y="2598">2</text>
<text x="1367.9" y="2703">3</text>
<text x="1395.4" y="2577">3</text>
<text x="1393" y="2598">1</text>
<text x="1393" y="2703">2</text>
<text x="1420.4" y="2577">2</text>
<text x="1418" y="2598">1</text>
<text x="1418" y="2703">3</text>
<text x="1445.4" y="2577">1</text>
<text x="1443" y="2598">2</text>
<text x="1443" y="2703">3</text>
<text x="1468.1" y="2598">3</text>
<text x="1468.1" y="2640">2</text>
<text x="1468.1" y="2703">3</text>
<text x="1495.5" y="2577">3</text>
<text x="1493.1" y="2703">2</text>
<text x="1518.1" y="2598">2</text>
<text x="1518.1" y="2703">3</text>
<text x="1543.2" y="2598">3</text>
<text x="1545.6" y="2682">2</text>
<text x="1543.2" y="2703">1</text>
<text x="1568.2" y="2598">3</text>
<text x="1570.6" y="2619">2</text>
<text x="1568.2" y="2640">1</text>
<text x="1593.2" y="2598">3</text>
<text x="1593.2" y="2640">2</text>
<text x="1593.2" y="2703">3</text>
<text x="1620.6" y="2577">3</text>
<text x="1618.2" y="2703">2</text>
<text x="1643.3" y="2640">3</text>
<text x="1670.7" y="2619">2</text>
<text x="1668.3" y="2640">3</text>
<text x="1693.3" y="2598">2</text>
<text x="1693.3" y="2640">1</text>
<text x="1693.3" y="2703">3</text>
<text x="1720.8" y="2577">1</text>
<text x="1718.4" y="2598">2</text>
<text x="1718.4" y="2703">3</text>
<text x="1745.8" y="2577">3</text>
<text x="1743.4" y="2598">3</text>
<text x="1743.4" y="2640">3</text>
<text x="1745.8" y="2682">3</text>
<text x="1743.4" y="2703">3</text>
<text x="1770.8" y="2619">2</text>
<text x="1795.9" y="2619">1</text>
<text x="1795.9" y="2682">2</text>
<text x="1820.9" y="2577">1</text>
<text x="1818.5" y="2598">2</text>
<text x="1818.5" y="2703">3</text>
<text x="1843.5" y="2598">3</text>
<text x="1845.9" y="2682">2</text>
<text x="1843.5" y="2703">1</text>
<text x="1870.9" y="2577">1</text>
<text x="1868.5" y="2598">3</text>
<text x="1870.9" y="2682">2</text>
<text x="1893.6" y="2598">2</text>
<text x="1893.6" y="2703">3</text>
<text x="1918.6" y="2598">3</text>
<text x="1921" y="2619">3</text>
<text x="1918.6" y="2640">3</text>
<text x="1921" y="2682">3</text>
<text x="1946" y="2577">3</text>
<text x="1943.6" y="2598">3</text>
<text x="1943.6" y="2640">3</text>
<text x="1946" y="2682">3</text>
<text x="1943.6" y="2703">3</text>
<text x="1968.7" y="2598">3</text>
<text x="1968.7" y="2640">2</text>
<text x="1968.7" y="2703">3</text>
<text x="1993.7" y="2598">3</text>
<text x="1993.7" y="2640">2</text>
<text x="1993.7" y="2703">3</text>
<text x="2018.7" y="2598">2</text>
<text x="2018.7" y="2703">3</text>
<text x="2046.2" y="2577">2</text>
<text x="2043.8" y="2703">3</text>
<text x="2068.8" y="2598">2</text>
<text x="2068.8" y="2640">1</text>
<text x="2068.8" y="2703">3</text>
<text x="2093.8" y="2598">2</text>
<text x="2093.8" y="2703">3</text>
<text x="2118.8" y="2598">2</text>
<text x="2118.8" y="2703">3</text>
<text x="2143.9" y="2598">2</text>
<text x="2143.9" y="2703">3</text>
<text x="2171.3" y="2577">3</text>
<text x="2168.9" y="2598">3</text>
<text x="2168.9" y="2640">3</text>
<text x="2171.3" y="2682">3</text>
<text x="2168.9" y="2703">3</text>
<text x="2193.9" y="2598">2</text>
<text x="2193.9" y="2703">3</text>
<text x="2221.4" y="2577">1</text>
<text x="2219" y="2598">2</text>
<text x="2219" y="2703">3</text>
<text x="2246.4" y="2619">2</text>
</g>
<text x="75.5" y="2577" class="t17" fill="#222">1)</text>
<text x="98.5" y="2577" class="t17" textLength="269" lengthAdjust="spacingAndGlyphs" fill="#222">Analyze complex computing problems.</text>
<text x="75.5" y="2598" class="t17" fill="#222">2)</text>
<text x="98.5" y="2598" class="t17" textLength="305" lengthAdjust="spacingAndGlyphs" fill="#222">Design and implement computing solutions.</text>
<text x="75.5" y="2619" class="t17" fill="#222">3)</text>
<text x="98.5" y="2619" class="t17" textLength="260.5" lengthAdjust="spacingAndGlyphs" fill="#222">Effective professional communication.</text>
<text x="75.5" y="2640" class="t17" fill="#222">4)</text>
<text x="98.5" y="2640" class="t17" textLength="476" lengthAdjust="spacingAndGlyphs" fill="#222">Recognize professional responsabilities and make informed judg-</text>
<text x="98.5" y="2661" class="t17" textLength="44.5" lengthAdjust="spacingAndGlyphs" fill="#222">ments.</text>
<text x="75.5" y="2682" class="t17" fill="#222">5)</text>
<text x="98.5" y="2682" class="t17" textLength="375.5" lengthAdjust="spacingAndGlyphs" fill="#222">Function effectively as a member or leader of a team .</text>
<text x="75.5" y="2703" class="t17" fill="#222">6)</text>
<text x="98.5" y="2703" class="t17" textLength="476" lengthAdjust="spacingAndGlyphs" fill="#222">Apply computer science theory and software development fundamen-</text>
<text x="98.5" y="2724" class="t17" textLength="28" lengthAdjust="spacingAndGlyphs" fill="#222">tals.</text>
<text x="75.5" y="2745" class="t17" fill="#222">7)</text>
<text x="98.5" y="2745" class="t17" textLength="476" lengthAdjust="spacingAndGlyphs" fill="#222">Develop computational technology for the well-being of all, contribu-</text>
<text x="98.5" y="2766" class="t17" textLength="476" lengthAdjust="spacingAndGlyphs" fill="#222">ting with human formation, scientific, technological and professional</text>
<text x="98.5" y="2787" class="t17" textLength="333" lengthAdjust="spacingAndGlyphs" fill="#222">skills to solve social problems of our community</text>
<text x="105" y="2545" class="b" style="font-size:34px" textLength="94" lengthAdjust="spacingAndGlyphs">Skill <tspan font-weight="normal">⇓</tspan></text>
<text x="426.5" y="2522.5" class="b" style="font-size:34px" textLength="141" lengthAdjust="spacingAndGlyphs">Course <tspan font-weight="normal">⇒</tspan></text>
<rect x="2332" y="2438" width="1199" height="351" fill="#000"/>
<rect x="2328" y="2434" width="1199" height="351" fill="#fff" stroke="#777" stroke-width="1"/>
<text x="2347.4" y="2463.4" class="b" textLength="324.5" lengthAdjust="spacingAndGlyphs" style="font-size:31px">Educational objectives</text>
<line x1="2347.4" y1="2473.6" x2="2672" y2="2473.6" stroke="#000" stroke-width="1" />
<text x="2349.6" y="2517.2" textLength="953.6" lengthAdjust="spacingAndGlyphs" fill="#222" style="font-size:32px">1. Meet and exceed work expectations defined by the work environment.</text>
<text x="2349.6" y="2567" textLength="1000.6" lengthAdjust="spacingAndGlyphs" fill="#222" style="font-size:32px">2. Perform as a member or leader of a specialized or multidisciplinary team.</text>
<text x="2349.6" y="2618" textLength="817.1" lengthAdjust="spacingAndGlyphs" fill="#222" style="font-size:32px">3. Propose innovative solutions at Ciencia de la Computación.</text>
<text x="2349.6" y="2668.4" textLength="671.1" lengthAdjust="spacingAndGlyphs" fill="#222" style="font-size:32px">4. Communicate technological proposals effectively.</text>
<text x="2349.6" y="2719.4" textLength="653.4" lengthAdjust="spacingAndGlyphs" fill="#222" style="font-size:32px">5. Stay up-to-date on Ciencia de la Computación.</text>
<text x="2349.6" y="2769.2" textLength="989.3" lengthAdjust="spacingAndGlyphs" fill="#222" style="font-size:32px">6. Understand and apply the social and ethical consequences of technology.</text>
<rect x="41.5" y="2823" width="3489.5" height="217" fill="#000"/>
<rect x="37.5" y="2819" width="3489.5" height="217" fill="#fff" stroke="#777" stroke-width="1"/>
<text x="57.5" y="2850" class="b" textLength="472.5" lengthAdjust="spacingAndGlyphs" style="font-size:33px">Definition of Learning Outcomes</text>
<line x1="57.5" y1="2858.3" x2="530" y2="2858.3" stroke="#000" stroke-width="1" />
<line x1="57.5" y1="2983.3" x2="3517" y2="2983.3" stroke="#444" stroke-width="1" />
<text x="57.5" y="2889" font-size="32" textLength="1214.5" lengthAdjust="spacingAndGlyphs" xml:space="preserve"><tspan font-weight="bold">Level 1: Familiarity:</tspan><tspan> The student </tspan><tspan font-weight="bold">understands</tspan><tspan> basic concepts. Answers: </tspan><tspan font-weight="bold">”What is this?”</tspan></text>
<text x="57.5" y="2929" font-size="32" textLength="1185.5" lengthAdjust="spacingAndGlyphs" xml:space="preserve"><tspan font-weight="bold">Level 2: Usage:</tspan><tspan> The student </tspan><tspan font-weight="bold">applies</tspan><tspan> concepts practically. Answers: </tspan><tspan font-weight="bold">”How to use this?”</tspan></text>
<text x="57.5" y="2968.5" font-size="32" textLength="1396.5" lengthAdjust="spacingAndGlyphs" xml:space="preserve"><tspan font-weight="bold">Level 3: Assessment:</tspan><tspan> The student </tspan><tspan font-weight="bold">evaluates and justifies</tspan><tspan> approaches. Answers: </tspan><tspan font-weight="bold">”Why this method?”</tspan></text>
<text x="58.5" y="3016" font-size="37.5" textLength="3138.5" lengthAdjust="spacingAndGlyphs" xml:space="preserve"><tspan font-weight="bold">Generado por Ernesto Cuadros-Vargas (ecuadros@spc.org.pe), Sociedad Peruana de Computación (http://www.spc.org.pe/), basado en la ACM/IEEE-CS </tspan><tspan font-weight="bold" font-style="italic">Computing Curricula</tspan></text>
<rect x="3570" y="48.3" width="910.8" height="3014.5" fill="#4c6f8c"/>
<rect x="3660.6" y="115.8" width="735" height="577" fill="#000"/>
<rect x="3656.3" y="111.3" width="734.8" height="577" fill="#4c6f8c" stroke="#1a1a1a" stroke-width="0.9"/>
<rect x="3660" y="115.2" width="727" height="569.4" fill="#fff"/>
<g class="ch">
<rect x="3738.2" y="157.5" width="624.6" height="335.5" fill="#555"/>
<rect x="3732.7" y="152" width="624.6" height="335.5" fill="#fff"/>
<path d="M3798.8,152V487.5M3866,152V487.5M3933.2,152V487.5M4000.5,152V487.5M4067.7,152V487.5M4134.9,152V487.5M4202.1,152V487.5M4269.3,152V487.5M4336.6,152V487.5M3732.7,420.4H4357.3M3732.7,353.3H4357.3M3732.7,286.2H4357.3M3732.7,219.1H4357.3" stroke="#c8c8c8" stroke-width="1.2" stroke-dasharray="1.2,5.5" fill="none"/>
<polygon points="3798.8,384.8 3866,215.7 3933.2,453.3 4000.5,410.3 4067.7,384.8 4134.9,463.3 4202.1,487.5 4269.3,487.5 4336.6,487.5 4336.6,487.5 4269.3,487.5 4202.1,487.5 4134.9,468.7 4067.7,421.7 4000.5,453.3 3933.2,479.4 3866,352.6 3798.8,453.3" fill="#ffff00"/>
<rect x="3732.7" y="152" width="624.6" height="335.5" fill="none" stroke="#000" stroke-width="1.6"/>
<clipPath id="cc1"><rect x="3712.7" y="130" width="800" height="400"/></clipPath>
<polyline points="3798.8,472.1 3866,113.8 3933.2,487.5 4000.5,429.8 4067.7,411 4134.9,462 4202.1,343.9 4269.3,487.5 4336.6,415.7" fill="none" stroke="#000" stroke-width="1.8" clip-path="url(#cc1)"/>
<circle cx="3798.8" cy="472.1" r="4.6" fill="#000"/>
<circle cx="3933.2" cy="487.5" r="4.6" fill="#000"/>
<circle cx="4000.5" cy="429.8" r="4.6" fill="#000"/>
<circle cx="4067.7" cy="411" r="4.6" fill="#000"/>
<circle cx="4134.9" cy="462" r="4.6" fill="#000"/>
<circle cx="4202.1" cy="343.9" r="4.6" fill="#000"/>
<circle cx="4269.3" cy="487.5" r="4.6" fill="#000"/>
<circle cx="4336.6" cy="415.7" r="4.6" fill="#000"/>
<polyline points="3798.8,384.8 3866,215.7 3933.2,453.3 4000.5,410.3 4067.7,384.8 4134.9,463.3 4202.1,487.5 4269.3,487.5 4336.6,487.5" fill="none" stroke="#0000ff" stroke-width="2.1" stroke-dasharray="8,5.2"/>
<circle cx="3798.8" cy="382.2" r="4.6" fill="#0000ff"/>
<circle cx="3866" cy="213.1" r="4.6" fill="#0000ff"/>
<circle cx="3933.2" cy="450.6" r="4.6" fill="#0000ff"/>
<circle cx="4000.5" cy="407.7" r="4.6" fill="#0000ff"/>
<circle cx="4067.7" cy="382.2" r="4.6" fill="#0000ff"/>
<circle cx="4134.9" cy="460.7" r="4.6" fill="#0000ff"/>
<circle cx="4202.1" cy="487.5" r="4.6" fill="#0000ff"/>
<circle cx="4269.3" cy="487.5" r="4.6" fill="#0000ff"/>
<circle cx="4336.6" cy="487.5" r="4.6" fill="#0000ff"/>
<polyline points="3798.8,453.3 3866,352.6 3933.2,479.4 4000.5,453.3 4067.7,421.7 4134.9,468.7 4202.1,487.5 4269.3,487.5 4336.6,487.5" fill="none" stroke="#ff0000" stroke-width="2.1" stroke-dasharray="8,5.2"/>
<circle cx="3798.8" cy="450.6" r="4.6" fill="#ff0000"/>
<circle cx="3866" cy="349.9" r="4.6" fill="#ff0000"/>
<circle cx="3933.2" cy="476.8" r="4.6" fill="#ff0000"/>
<circle cx="4000.5" cy="450.6" r="4.6" fill="#ff0000"/>
<circle cx="4067.7" cy="419.1" r="4.6" fill="#ff0000"/>
<circle cx="4134.9" cy="466" r="4.6" fill="#ff0000"/>
<circle cx="4202.1" cy="487.5" r="4.6" fill="#ff0000"/>
<circle cx="4269.3" cy="487.5" r="4.6" fill="#ff0000"/>
<circle cx="4336.6" cy="487.5" r="4.6" fill="#ff0000"/>
<text x="3684" y="429.1" textLength="46.5" lengthAdjust="spacingAndGlyphs">10 %</text>
<text x="3684" y="362" textLength="46.5" lengthAdjust="spacingAndGlyphs">20 %</text>
<text x="3684" y="294.9" textLength="46.5" lengthAdjust="spacingAndGlyphs">30 %</text>
<text x="3684" y="227.8" textLength="46.5" lengthAdjust="spacingAndGlyphs">40 %</text>
<text x="3684" y="160.7" textLength="46.5" lengthAdjust="spacingAndGlyphs">50 %</text>
<text transform="translate(3794.3,501) rotate(-90)" text-anchor="end" textLength="160" lengthAdjust="spacingAndGlyphs">Hardware and</text>
<text transform="translate(3820.3,501) rotate(-90)" text-anchor="end" textLength="141" lengthAdjust="spacingAndGlyphs">Architecture</text>
<text transform="translate(3861.5,501) rotate(-90)" text-anchor="end" textLength="114" lengthAdjust="spacingAndGlyphs">Computer</text>
<text transform="translate(3887.5,501) rotate(-90)" text-anchor="end" textLength="81.5" lengthAdjust="spacingAndGlyphs">Science</text>
<text transform="translate(3928.7,501) rotate(-90)" text-anchor="end" textLength="134" lengthAdjust="spacingAndGlyphs">Information</text>
<text transform="translate(3954.7,501) rotate(-90)" text-anchor="end" textLength="91" lengthAdjust="spacingAndGlyphs">Systems</text>
<text transform="translate(3996,501) rotate(-90)" text-anchor="end" textLength="134" lengthAdjust="spacingAndGlyphs">Information</text>
<text transform="translate(4022,501) rotate(-90)" text-anchor="end" textLength="126.5" lengthAdjust="spacingAndGlyphs">Technology</text>
<text transform="translate(4063.2,501) rotate(-90)" text-anchor="end" textLength="97" lengthAdjust="spacingAndGlyphs">Software</text>
<text transform="translate(4089.2,501) rotate(-90)" text-anchor="end" textLength="134" lengthAdjust="spacingAndGlyphs">Engineering</text>
<text transform="translate(4130.4,501) rotate(-90)" text-anchor="end" textLength="159" lengthAdjust="spacingAndGlyphs">Mathematics</text>
<text transform="translate(4156.4,501) rotate(-90)" text-anchor="end" textLength="167" lengthAdjust="spacingAndGlyphs">for Computing</text>
<text transform="translate(4197.6,501) rotate(-90)" text-anchor="end" textLength="60" lengthAdjust="spacingAndGlyphs">Basic</text>
<text transform="translate(4223.6,501) rotate(-90)" text-anchor="end" textLength="91" lengthAdjust="spacingAndGlyphs">Sciences</text>
<text transform="translate(4277.8,501) rotate(-90)" text-anchor="end" textLength="96.6" lengthAdjust="spacingAndGlyphs">Business</text>
<text transform="translate(4332.1,501) rotate(-90)" text-anchor="end" textLength="87" lengthAdjust="spacingAndGlyphs">General</text>
<text transform="translate(4358.1,501) rotate(-90)" text-anchor="end" textLength="123" lengthAdjust="spacingAndGlyphs">Knowledge</text>
<rect x="4147.6" y="170.5" width="193.4" height="98.5" fill="#555"/>
<rect x="4142.6" y="165.5" width="193.4" height="98.5" fill="#fff" stroke="#000" stroke-width="1.6"/>
<path d="M4149,185.7H4210" stroke="#0000ff" stroke-width="2.1" stroke-dasharray="13.5,9"/>
<text x="4210.6" y="194.2" textLength="92" lengthAdjust="spacingAndGlyphs">CS Max</text>
<path d="M4149,212.5H4210" stroke="#000" stroke-width="1.8"/>
<text x="4210.6" y="221" textLength="90" lengthAdjust="spacingAndGlyphs">CS-UNI</text>
<path d="M4149,239.3H4210" stroke="#ff0000" stroke-width="2.1" stroke-dasharray="13.5,9"/>
<text x="4210.6" y="247.8" textLength="87" lengthAdjust="spacingAndGlyphs">CS Min</text>
</g>
<text x="4025" y="732.3" class="cap" textLength="346.5" lengthAdjust="spacingAndGlyphs">CS (UNI) vs CS (ACM/IEEE-CS)</text>
<path d="M3987.2,744.4H3991.5V1018.1H3640.5V1013.8H3987.2Z" fill="#fff"/>
<rect x="3636.2" y="740.1" width="351" height="273.7" fill="#4c6f8c" stroke="#9fb4c6" stroke-width="0.8"/>
<rect x="3640" y="744" width="343.6" height="266" fill="#fff"/>
<g class="ch" transform="translate(3685,769) scale(0.4355) translate(-3732.7,-152)">
<rect x="3738.2" y="157.5" width="624.6" height="335.5" fill="#555"/>
<rect x="3732.7" y="152" width="624.6" height="335.5" fill="#fff"/>
<path d="M3798.8,152V487.5M3866,152V487.5M3933.2,152V487.5M4000.5,152V487.5M4067.7,152V487.5M4134.9,152V487.5M4202.1,152V487.5M4269.3,152V487.5M4336.6,152V487.5M3732.7,420.4H4357.3M3732.7,353.3H4357.3M3732.7,286.2H4357.3M3732.7,219.1H4357.3" stroke="#c8c8c8" stroke-width="1.5" stroke-dasharray="1.2,5.5" fill="none"/>
<polygon points="3798.8,264.1 3866,326.5 3933.2,467.4 4000.5,417.7 4067.7,366.7 4134.9,465.4 4202.1,487.5 4269.3,487.5 4336.6,487.5 4336.6,487.5 4269.3,487.5 4202.1,487.5 4134.9,467.4 4067.7,431.1 4000.5,462.7 3933.2,482.1 3866,413 3798.8,318.4" fill="#ffff00"/>
<rect x="3732.7" y="152" width="624.6" height="335.5" fill="none" stroke="#000" stroke-width="2"/>
<clipPath id="cc2"><rect x="3712.7" y="130" width="800" height="400"/></clipPath>
<polyline points="3798.8,472.1 3866,113.8 3933.2,487.5 4000.5,429.8 4067.7,411 4134.9,462 4202.1,343.9 4269.3,487.5 4336.6,415.7" fill="none" stroke="#000" stroke-width="2.2" clip-path="url(#cc2)"/>
<circle cx="3798.8" cy="472.1" r="4.6" fill="#000"/>
<circle cx="3933.2" cy="487.5" r="4.6" fill="#000"/>
<circle cx="4000.5" cy="429.8" r="4.6" fill="#000"/>
<circle cx="4067.7" cy="411" r="4.6" fill="#000"/>
<circle cx="4134.9" cy="462" r="4.6" fill="#000"/>
<circle cx="4202.1" cy="343.9" r="4.6" fill="#000"/>
<circle cx="4269.3" cy="487.5" r="4.6" fill="#000"/>
<circle cx="4336.6" cy="415.7" r="4.6" fill="#000"/>
<polyline points="3798.8,264.1 3866,326.5 3933.2,467.4 4000.5,417.7 4067.7,366.7 4134.9,465.4 4202.1,487.5 4269.3,487.5 4336.6,487.5" fill="none" stroke="#0000ff" stroke-width="2.6" stroke-dasharray="8,5.2"/>
<circle cx="3798.8" cy="261.4" r="4.6" fill="#0000ff"/>
<circle cx="3866" cy="323.8" r="4.6" fill="#0000ff"/>
<circle cx="3933.2" cy="464.7" r="4.6" fill="#0000ff"/>
<circle cx="4000.5" cy="415" r="4.6" fill="#0000ff"/>
<circle cx="4067.7" cy="364" r="4.6" fill="#0000ff"/>
<circle cx="4134.9" cy="462.7" r="4.6" fill="#0000ff"/>
<circle cx="4202.1" cy="487.5" r="4.6" fill="#0000ff"/>
<circle cx="4269.3" cy="487.5" r="4.6" fill="#0000ff"/>
<circle cx="4336.6" cy="487.5" r="4.6" fill="#0000ff"/>
<polyline points="3798.8,318.4 3866,413 3933.2,482.1 4000.5,462.7 4067.7,431.1 4134.9,467.4 4202.1,487.5 4269.3,487.5 4336.6,487.5" fill="none" stroke="#ff0000" stroke-width="2.6" stroke-dasharray="8,5.2"/>
<circle cx="3798.8" cy="315.7" r="4.6" fill="#ff0000"/>
<circle cx="3866" cy="410.3" r="4.6" fill="#ff0000"/>
<circle cx="3933.2" cy="479.4" r="4.6" fill="#ff0000"/>
<circle cx="4000.5" cy="460" r="4.6" fill="#ff0000"/>
<circle cx="4067.7" cy="428.5" r="4.6" fill="#ff0000"/>
<circle cx="4134.9" cy="464.7" r="4.6" fill="#ff0000"/>
<circle cx="4202.1" cy="487.5" r="4.6" fill="#ff0000"/>
<circle cx="4269.3" cy="487.5" r="4.6" fill="#ff0000"/>
<circle cx="4336.6" cy="487.5" r="4.6" fill="#ff0000"/>
<text x="3684" y="429.1" textLength="46.5" lengthAdjust="spacingAndGlyphs">10 %</text>
<text x="3684" y="362" textLength="46.5" lengthAdjust="spacingAndGlyphs">20 %</text>
<text x="3684" y="294.9" textLength="46.5" lengthAdjust="spacingAndGlyphs">30 %</text>
<text x="3684" y="227.8" textLength="46.5" lengthAdjust="spacingAndGlyphs">40 %</text>
<text x="3684" y="160.7" textLength="46.5" lengthAdjust="spacingAndGlyphs">50 %</text>
<text transform="translate(3794.3,501) rotate(-90)" text-anchor="end" textLength="160" lengthAdjust="spacingAndGlyphs">Hardware and</text>
<text transform="translate(3820.3,501) rotate(-90)" text-anchor="end" textLength="141" lengthAdjust="spacingAndGlyphs">Architecture</text>
<text transform="translate(3861.5,501) rotate(-90)" text-anchor="end" textLength="114" lengthAdjust="spacingAndGlyphs">Computer</text>
<text transform="translate(3887.5,501) rotate(-90)" text-anchor="end" textLength="81.5" lengthAdjust="spacingAndGlyphs">Science</text>
<text transform="translate(3928.7,501) rotate(-90)" text-anchor="end" textLength="134" lengthAdjust="spacingAndGlyphs">Information</text>
<text transform="translate(3954.7,501) rotate(-90)" text-anchor="end" textLength="91" lengthAdjust="spacingAndGlyphs">Systems</text>
<text transform="translate(3996,501) rotate(-90)" text-anchor="end" textLength="134" lengthAdjust="spacingAndGlyphs">Information</text>
<text transform="translate(4022,501) rotate(-90)" text-anchor="end" textLength="126.5" lengthAdjust="spacingAndGlyphs">Technology</text>
<text transform="translate(4063.2,501) rotate(-90)" text-anchor="end" textLength="97" lengthAdjust="spacingAndGlyphs">Software</text>
<text transform="translate(4089.2,501) rotate(-90)" text-anchor="end" textLength="134" lengthAdjust="spacingAndGlyphs">Engineering</text>
<text transform="translate(4130.4,501) rotate(-90)" text-anchor="end" textLength="159" lengthAdjust="spacingAndGlyphs">Mathematics</text>
<text transform="translate(4156.4,501) rotate(-90)" text-anchor="end" textLength="167" lengthAdjust="spacingAndGlyphs">for Computing</text>
<text transform="translate(4197.6,501) rotate(-90)" text-anchor="end" textLength="60" lengthAdjust="spacingAndGlyphs">Basic</text>
<text transform="translate(4223.6,501) rotate(-90)" text-anchor="end" textLength="91" lengthAdjust="spacingAndGlyphs">Sciences</text>
<text transform="translate(4277.8,501) rotate(-90)" text-anchor="end" textLength="96.6" lengthAdjust="spacingAndGlyphs">Business</text>
<text transform="translate(4332.1,501) rotate(-90)" text-anchor="end" textLength="87" lengthAdjust="spacingAndGlyphs">General</text>
<text transform="translate(4358.1,501) rotate(-90)" text-anchor="end" textLength="123" lengthAdjust="spacingAndGlyphs">Knowledge</text>
<rect x="4147.6" y="170.5" width="193.4" height="98.5" fill="#555"/>
<rect x="4142.6" y="165.5" width="193.4" height="98.5" fill="#fff" stroke="#000" stroke-width="2"/>
<path d="M4149,185.7H4210" stroke="#0000ff" stroke-width="2.6" stroke-dasharray="13.5,9"/>
<text x="4210.6" y="194.2" textLength="92" lengthAdjust="spacingAndGlyphs">CE Max</text>
<path d="M4149,212.5H4210" stroke="#000" stroke-width="2.2"/>
<text x="4210.6" y="221" textLength="90" lengthAdjust="spacingAndGlyphs">CS-UNI</text>
<path d="M4149,239.3H4210" stroke="#ff0000" stroke-width="2.6" stroke-dasharray="13.5,9"/>
<text x="4210.6" y="247.8" textLength="87" lengthAdjust="spacingAndGlyphs">CE Min</text>
</g>
<text x="3813.5" y="1038.8" class="cap" textLength="348" lengthAdjust="spacingAndGlyphs">CS (UNI) vs CE (ACM/IEEE-CS)</text>
<path d="M4410.9,744.4H4415.2V1018.1H4064.2V1013.8H4410.9Z" fill="#fff"/>
<rect x="4059.9" y="740.1" width="351" height="273.7" fill="#4c6f8c" stroke="#9fb4c6" stroke-width="0.8"/>
<rect x="4063.7" y="744" width="343.6" height="266" fill="#fff"/>
<g class="ch" transform="translate(4108.7,769) scale(0.4355) translate(-3732.7,-152)">
<rect x="3738.2" y="157.5" width="624.6" height="335.5" fill="#555"/>
<rect x="3732.7" y="152" width="624.6" height="335.5" fill="#fff"/>
<path d="M3798.8,152V487.5M3866,152V487.5M3933.2,152V487.5M4000.5,152V487.5M4067.7,152V487.5M4134.9,152V487.5M4202.1,152V487.5M4269.3,152V487.5M4336.6,152V487.5M3732.7,420.4H4357.3M3732.7,353.3H4357.3M3732.7,286.2H4357.3M3732.7,219.1H4357.3" stroke="#c8c8c8" stroke-width="1.5" stroke-dasharray="1.2,5.5" fill="none"/>
<polygon points="3798.8,454.6 3866,366 3933.2,391.5 4000.5,377.5 4067.7,377.5 4134.9,466 4202.1,487.5 4269.3,487.5 4336.6,487.5 4336.6,487.5 4269.3,487.5 4202.1,487.5 4134.9,479.4 4067.7,416.4 4000.5,443.2 3933.2,397.6 3866,427.8 3798.8,468" fill="#ffff00"/>
<rect x="3732.7" y="152" width="624.6" height="335.5" fill="none" stroke="#000" stroke-width="2"/>
<clipPath id="cc3"><rect x="3712.7" y="130" width="800" height="400"/></clipPath>
<polyline points="3798.8,472.1 3866,113.8 3933.2,487.5 4000.5,429.8 4067.7,411 4134.9,462 4202.1,343.9 4269.3,487.5 4336.6,415.7" fill="none" stroke="#000" stroke-width="2.2" clip-path="url(#cc3)"/>
<circle cx="3798.8" cy="472.1" r="4.6" fill="#000"/>
<circle cx="3933.2" cy="487.5" r="4.6" fill="#000"/>
<circle cx="4000.5" cy="429.8" r="4.6" fill="#000"/>
<circle cx="4067.7" cy="411" r="4.6" fill="#000"/>
<circle cx="4134.9" cy="462" r="4.6" fill="#000"/>
<circle cx="4202.1" cy="343.9" r="4.6" fill="#000"/>
<circle cx="4269.3" cy="487.5" r="4.6" fill="#000"/>
<circle cx="4336.6" cy="415.7" r="4.6" fill="#000"/>
<polyline points="3798.8,454.6 3866,366 3933.2,391.5 4000.5,377.5 4067.7,377.5 4134.9,466 4202.1,487.5 4269.3,487.5 4336.6,487.5" fill="none" stroke="#0000ff" stroke-width="2.6" stroke-dasharray="8,5.2"/>
<circle cx="3798.8" cy="451.9" r="4.6" fill="#0000ff"/>
<circle cx="3866" cy="363.4" r="4.6" fill="#0000ff"/>
<circle cx="3933.2" cy="388.9" r="4.6" fill="#0000ff"/>
<circle cx="4000.5" cy="374.8" r="4.6" fill="#0000ff"/>
<circle cx="4067.7" cy="374.8" r="4.6" fill="#0000ff"/>
<circle cx="4134.9" cy="463.3" r="4.6" fill="#0000ff"/>
<circle cx="4202.1" cy="487.5" r="4.6" fill="#0000ff"/>
<circle cx="4269.3" cy="487.5" r="4.6" fill="#0000ff"/>
<circle cx="4336.6" cy="487.5" r="4.6" fill="#0000ff"/>
<polyline points="3798.8,468 3866,427.8 3933.2,397.6 4000.5,443.2 4067.7,416.4 4134.9,479.4 4202.1,487.5 4269.3,487.5 4336.6,487.5" fill="none" stroke="#ff0000" stroke-width="2.6" stroke-dasharray="8,5.2"/>
<circle cx="3798.8" cy="465.4" r="4.6" fill="#ff0000"/>
<circle cx="3866" cy="425.1" r="4.6" fill="#ff0000"/>
<circle cx="3933.2" cy="394.9" r="4.6" fill="#ff0000"/>
<circle cx="4000.5" cy="440.5" r="4.6" fill="#ff0000"/>
<circle cx="4067.7" cy="413.7" r="4.6" fill="#ff0000"/>
<circle cx="4134.9" cy="476.8" r="4.6" fill="#ff0000"/>
<circle cx="4202.1" cy="487.5" r="4.6" fill="#ff0000"/>
<circle cx="4269.3" cy="487.5" r="4.6" fill="#ff0000"/>
<circle cx="4336.6" cy="487.5" r="4.6" fill="#ff0000"/>
<text x="3684" y="429.1" textLength="46.5" lengthAdjust="spacingAndGlyphs">10 %</text>
<text x="3684" y="362" textLength="46.5" lengthAdjust="spacingAndGlyphs">20 %</text>
<text x="3684" y="294.9" textLength="46.5" lengthAdjust="spacingAndGlyphs">30 %</text>
<text x="3684" y="227.8" textLength="46.5" lengthAdjust="spacingAndGlyphs">40 %</text>
<text x="3684" y="160.7" textLength="46.5" lengthAdjust="spacingAndGlyphs">50 %</text>
<text transform="translate(3794.3,501) rotate(-90)" text-anchor="end" textLength="160" lengthAdjust="spacingAndGlyphs">Hardware and</text>
<text transform="translate(3820.3,501) rotate(-90)" text-anchor="end" textLength="141" lengthAdjust="spacingAndGlyphs">Architecture</text>
<text transform="translate(3861.5,501) rotate(-90)" text-anchor="end" textLength="114" lengthAdjust="spacingAndGlyphs">Computer</text>
<text transform="translate(3887.5,501) rotate(-90)" text-anchor="end" textLength="81.5" lengthAdjust="spacingAndGlyphs">Science</text>
<text transform="translate(3928.7,501) rotate(-90)" text-anchor="end" textLength="134" lengthAdjust="spacingAndGlyphs">Information</text>
<text transform="translate(3954.7,501) rotate(-90)" text-anchor="end" textLength="91" lengthAdjust="spacingAndGlyphs">Systems</text>
<text transform="translate(3996,501) rotate(-90)" text-anchor="end" textLength="134" lengthAdjust="spacingAndGlyphs">Information</text>
<text transform="translate(4022,501) rotate(-90)" text-anchor="end" textLength="126.5" lengthAdjust="spacingAndGlyphs">Technology</text>
<text transform="translate(4063.2,501) rotate(-90)" text-anchor="end" textLength="97" lengthAdjust="spacingAndGlyphs">Software</text>
<text transform="translate(4089.2,501) rotate(-90)" text-anchor="end" textLength="134" lengthAdjust="spacingAndGlyphs">Engineering</text>
<text transform="translate(4130.4,501) rotate(-90)" text-anchor="end" textLength="159" lengthAdjust="spacingAndGlyphs">Mathematics</text>
<text transform="translate(4156.4,501) rotate(-90)" text-anchor="end" textLength="167" lengthAdjust="spacingAndGlyphs">for Computing</text>
<text transform="translate(4197.6,501) rotate(-90)" text-anchor="end" textLength="60" lengthAdjust="spacingAndGlyphs">Basic</text>
<text transform="translate(4223.6,501) rotate(-90)" text-anchor="end" textLength="91" lengthAdjust="spacingAndGlyphs">Sciences</text>
<text transform="translate(4277.8,501) rotate(-90)" text-anchor="end" textLength="96.6" lengthAdjust="spacingAndGlyphs">Business</text>
<text transform="translate(4332.1,501) rotate(-90)" text-anchor="end" textLength="87" lengthAdjust="spacingAndGlyphs">General</text>
<text transform="translate(4358.1,501) rotate(-90)" text-anchor="end" textLength="123" lengthAdjust="spacingAndGlyphs">Knowledge</text>
<rect x="4147.6" y="170.5" width="193.4" height="98.5" fill="#555"/>
<rect x="4142.6" y="165.5" width="193.4" height="98.5" fill="#fff" stroke="#000" stroke-width="2"/>
<path d="M4149,185.7H4210" stroke="#0000ff" stroke-width="2.6" stroke-dasharray="13.5,9"/>
<text x="4210.6" y="194.2" textLength="92" lengthAdjust="spacingAndGlyphs">IS Max</text>
<path d="M4149,212.5H4210" stroke="#000" stroke-width="2.2"/>
<text x="4210.6" y="221" textLength="90" lengthAdjust="spacingAndGlyphs">CS-UNI</text>
<path d="M4149,239.3H4210" stroke="#ff0000" stroke-width="2.6" stroke-dasharray="13.5,9"/>
<text x="4210.6" y="247.8" textLength="87" lengthAdjust="spacingAndGlyphs">IS Min</text>
</g>
<text x="4237.5" y="1038.8" class="cap" textLength="340" lengthAdjust="spacingAndGlyphs">CS (UNI) vs IS (ACM/IEEE-CS)</text>
<path d="M3987.2,1050.1H3991.5V1323.8H3640.5V1319.5H3987.2Z" fill="#fff"/>
<rect x="3636.2" y="1045.8" width="351" height="273.7" fill="#4c6f8c" stroke="#9fb4c6" stroke-width="0.8"/>
<rect x="3640" y="1049.7" width="343.6" height="266" fill="#fff"/>
<g class="ch" transform="translate(3685,1074.6) scale(0.4355) translate(-3732.7,-152)">
<rect x="3738.2" y="157.5" width="624.6" height="335.5" fill="#555"/>
<rect x="3732.7" y="152" width="624.6" height="335.5" fill="#fff"/>
<path d="M3798.8,152V487.5M3866,152V487.5M3933.2,152V487.5M4000.5,152V487.5M4067.7,152V487.5M4134.9,152V487.5M4202.1,152V487.5M4269.3,152V487.5M4336.6,152V487.5M3732.7,420.4H4357.3M3732.7,353.3H4357.3M3732.7,286.2H4357.3M3732.7,219.1H4357.3" stroke="#c8c8c8" stroke-width="1.5" stroke-dasharray="1.2,5.5" fill="none"/>
<polygon points="3798.8,391.5 3866,317.1 3933.2,429.8 4000.5,409.7 4067.7,303.6 4134.9,465.4 4202.1,487.5 4269.3,487.5 4336.6,487.5 4336.6,487.5 4269.3,487.5 4202.1,487.5 4134.9,471.4 4067.7,358.7 4000.5,458 3933.2,466 3866,382.8 3798.8,447.9" fill="#ffff00"/>
<rect x="3732.7" y="152" width="624.6" height="335.5" fill="none" stroke="#000" stroke-width="2"/>
<clipPath id="cc4"><rect x="3712.7" y="130" width="800" height="400"/></clipPath>
<polyline points="3798.8,472.1 3866,113.8 3933.2,487.5 4000.5,429.8 4067.7,411 4134.9,462 4202.1,343.9 4269.3,487.5 4336.6,415.7" fill="none" stroke="#000" stroke-width="2.2" clip-path="url(#cc4)"/>
<circle cx="3798.8" cy="472.1" r="4.6" fill="#000"/>
<circle cx="3933.2" cy="487.5" r="4.6" fill="#000"/>
<circle cx="4000.5" cy="429.8" r="4.6" fill="#000"/>
<circle cx="4067.7" cy="411" r="4.6" fill="#000"/>
<circle cx="4134.9" cy="462" r="4.6" fill="#000"/>
<circle cx="4202.1" cy="343.9" r="4.6" fill="#000"/>
<circle cx="4269.3" cy="487.5" r="4.6" fill="#000"/>
<circle cx="4336.6" cy="415.7" r="4.6" fill="#000"/>
<polyline points="3798.8,391.5 3866,317.1 3933.2,429.8 4000.5,409.7 4067.7,303.6 4134.9,465.4 4202.1,487.5 4269.3,487.5 4336.6,487.5" fill="none" stroke="#0000ff" stroke-width="2.6" stroke-dasharray="8,5.2"/>
<circle cx="3798.8" cy="388.9" r="4.6" fill="#0000ff"/>
<circle cx="3866" cy="314.4" r="4.6" fill="#0000ff"/>
<circle cx="3933.2" cy="427.1" r="4.6" fill="#0000ff"/>
<circle cx="4000.5" cy="407" r="4.6" fill="#0000ff"/>
<circle cx="4067.7" cy="301" r="4.6" fill="#0000ff"/>
<circle cx="4134.9" cy="462.7" r="4.6" fill="#0000ff"/>
<circle cx="4202.1" cy="487.5" r="4.6" fill="#0000ff"/>
<circle cx="4269.3" cy="487.5" r="4.6" fill="#0000ff"/>
<circle cx="4336.6" cy="487.5" r="4.6" fill="#0000ff"/>
<polyline points="3798.8,447.9 3866,382.8 3933.2,466 4000.5,458 4067.7,358.7 4134.9,471.4 4202.1,487.5 4269.3,487.5 4336.6,487.5" fill="none" stroke="#ff0000" stroke-width="2.6" stroke-dasharray="8,5.2"/>
<circle cx="3798.8" cy="445.2" r="4.6" fill="#ff0000"/>
<circle cx="3866" cy="380.1" r="4.6" fill="#ff0000"/>
<circle cx="3933.2" cy="463.3" r="4.6" fill="#ff0000"/>
<circle cx="4000.5" cy="455.3" r="4.6" fill="#ff0000"/>
<circle cx="4067.7" cy="356" r="4.6" fill="#ff0000"/>
<circle cx="4134.9" cy="468.7" r="4.6" fill="#ff0000"/>
<circle cx="4202.1" cy="487.5" r="4.6" fill="#ff0000"/>
<circle cx="4269.3" cy="487.5" r="4.6" fill="#ff0000"/>
<circle cx="4336.6" cy="487.5" r="4.6" fill="#ff0000"/>
<text x="3684" y="429.1" textLength="46.5" lengthAdjust="spacingAndGlyphs">10 %</text>
<text x="3684" y="362" textLength="46.5" lengthAdjust="spacingAndGlyphs">20 %</text>
<text x="3684" y="294.9" textLength="46.5" lengthAdjust="spacingAndGlyphs">30 %</text>
<text x="3684" y="227.8" textLength="46.5" lengthAdjust="spacingAndGlyphs">40 %</text>
<text x="3684" y="160.7" textLength="46.5" lengthAdjust="spacingAndGlyphs">50 %</text>
<text transform="translate(3794.3,501) rotate(-90)" text-anchor="end" textLength="160" lengthAdjust="spacingAndGlyphs">Hardware and</text>
<text transform="translate(3820.3,501) rotate(-90)" text-anchor="end" textLength="141" lengthAdjust="spacingAndGlyphs">Architecture</text>
<text transform="translate(3861.5,501) rotate(-90)" text-anchor="end" textLength="114" lengthAdjust="spacingAndGlyphs">Computer</text>
<text transform="translate(3887.5,501) rotate(-90)" text-anchor="end" textLength="81.5" lengthAdjust="spacingAndGlyphs">Science</text>
<text transform="translate(3928.7,501) rotate(-90)" text-anchor="end" textLength="134" lengthAdjust="spacingAndGlyphs">Information</text>
<text transform="translate(3954.7,501) rotate(-90)" text-anchor="end" textLength="91" lengthAdjust="spacingAndGlyphs">Systems</text>
<text transform="translate(3996,501) rotate(-90)" text-anchor="end" textLength="134" lengthAdjust="spacingAndGlyphs">Information</text>
<text transform="translate(4022,501) rotate(-90)" text-anchor="end" textLength="126.5" lengthAdjust="spacingAndGlyphs">Technology</text>
<text transform="translate(4063.2,501) rotate(-90)" text-anchor="end" textLength="97" lengthAdjust="spacingAndGlyphs">Software</text>
<text transform="translate(4089.2,501) rotate(-90)" text-anchor="end" textLength="134" lengthAdjust="spacingAndGlyphs">Engineering</text>
<text transform="translate(4130.4,501) rotate(-90)" text-anchor="end" textLength="159" lengthAdjust="spacingAndGlyphs">Mathematics</text>
<text transform="translate(4156.4,501) rotate(-90)" text-anchor="end" textLength="167" lengthAdjust="spacingAndGlyphs">for Computing</text>
<text transform="translate(4197.6,501) rotate(-90)" text-anchor="end" textLength="60" lengthAdjust="spacingAndGlyphs">Basic</text>
<text transform="translate(4223.6,501) rotate(-90)" text-anchor="end" textLength="91" lengthAdjust="spacingAndGlyphs">Sciences</text>
<text transform="translate(4277.8,501) rotate(-90)" text-anchor="end" textLength="96.6" lengthAdjust="spacingAndGlyphs">Business</text>
<text transform="translate(4332.1,501) rotate(-90)" text-anchor="end" textLength="87" lengthAdjust="spacingAndGlyphs">General</text>
<text transform="translate(4358.1,501) rotate(-90)" text-anchor="end" textLength="123" lengthAdjust="spacingAndGlyphs">Knowledge</text>
<rect x="4147.6" y="170.5" width="193.4" height="98.5" fill="#555"/>
<rect x="4142.6" y="165.5" width="193.4" height="98.5" fill="#fff" stroke="#000" stroke-width="2"/>
<path d="M4149,185.7H4210" stroke="#0000ff" stroke-width="2.6" stroke-dasharray="13.5,9"/>
<text x="4210.6" y="194.2" textLength="92" lengthAdjust="spacingAndGlyphs">SE Max</text>
<path d="M4149,212.5H4210" stroke="#000" stroke-width="2.2"/>
<text x="4210.6" y="221" textLength="90" lengthAdjust="spacingAndGlyphs">CS-UNI</text>
<path d="M4149,239.3H4210" stroke="#ff0000" stroke-width="2.6" stroke-dasharray="13.5,9"/>
<text x="4210.6" y="247.8" textLength="87" lengthAdjust="spacingAndGlyphs">SE Min</text>
</g>
<text x="3813.5" y="1344.6" class="cap" textLength="345" lengthAdjust="spacingAndGlyphs">CS (UNI) vs SE (ACM/IEEE-CS)</text>
<path d="M4410.9,1050.1H4415.2V1323.8H4064.2V1319.5H4410.9Z" fill="#fff"/>
<rect x="4059.9" y="1045.8" width="351" height="273.7" fill="#4c6f8c" stroke="#9fb4c6" stroke-width="0.8"/>
<rect x="4063.7" y="1049.7" width="343.6" height="266" fill="#fff"/>
<g class="ch" transform="translate(4108.7,1074.6) scale(0.4355) translate(-3732.7,-152)">
<rect x="3738.2" y="157.5" width="624.6" height="335.5" fill="#555"/>
<rect x="3732.7" y="152" width="624.6" height="335.5" fill="#fff"/>
<path d="M3798.8,152V487.5M3866,152V487.5M3933.2,152V487.5M4000.5,152V487.5M4067.7,152V487.5M4134.9,152V487.5M4202.1,152V487.5M4269.3,152V487.5M4336.6,152V487.5M3732.7,420.4H4357.3M3732.7,353.3H4357.3M3732.7,286.2H4357.3M3732.7,219.1H4357.3" stroke="#c8c8c8" stroke-width="1.5" stroke-dasharray="1.2,5.5" fill="none"/>
<polygon points="3798.8,437.2 3866,372.8 3933.2,431.1 4000.5,262 4067.7,415 4134.9,464 4202.1,487.5 4269.3,487.5 4336.6,487.5 4336.6,487.5 4269.3,487.5 4202.1,487.5 4134.9,476.1 4067.7,449.3 4000.5,306.3 3933.2,458 3866,418.4 3798.8,470.1" fill="#ffff00"/>
<rect x="3732.7" y="152" width="624.6" height="335.5" fill="none" stroke="#000" stroke-width="2"/>
<clipPath id="cc5"><rect x="3712.7" y="130" width="800" height="400"/></clipPath>
<polyline points="3798.8,472.1 3866,113.8 3933.2,487.5 4000.5,429.8 4067.7,411 4134.9,462 4202.1,343.9 4269.3,487.5 4336.6,415.7" fill="none" stroke="#000" stroke-width="2.2" clip-path="url(#cc5)"/>
<circle cx="3798.8" cy="472.1" r="4.6" fill="#000"/>
<circle cx="3933.2" cy="487.5" r="4.6" fill="#000"/>
<circle cx="4000.5" cy="429.8" r="4.6" fill="#000"/>
<circle cx="4067.7" cy="411" r="4.6" fill="#000"/>
<circle cx="4134.9" cy="462" r="4.6" fill="#000"/>
<circle cx="4202.1" cy="343.9" r="4.6" fill="#000"/>
<circle cx="4269.3" cy="487.5" r="4.6" fill="#000"/>
<circle cx="4336.6" cy="415.7" r="4.6" fill="#000"/>
<polyline points="3798.8,437.2 3866,372.8 3933.2,431.1 4000.5,262 4067.7,415 4134.9,464 4202.1,487.5 4269.3,487.5 4336.6,487.5" fill="none" stroke="#0000ff" stroke-width="2.6" stroke-dasharray="8,5.2"/>
<circle cx="3798.8" cy="434.5" r="4.6" fill="#0000ff"/>
<circle cx="3866" cy="370.1" r="4.6" fill="#0000ff"/>
<circle cx="3933.2" cy="428.5" r="4.6" fill="#0000ff"/>
<circle cx="4000.5" cy="259.4" r="4.6" fill="#0000ff"/>
<circle cx="4067.7" cy="412.3" r="4.6" fill="#0000ff"/>
<circle cx="4134.9" cy="461.3" r="4.6" fill="#0000ff"/>
<circle cx="4202.1" cy="487.5" r="4.6" fill="#0000ff"/>
<circle cx="4269.3" cy="487.5" r="4.6" fill="#0000ff"/>
<circle cx="4336.6" cy="487.5" r="4.6" fill="#0000ff"/>
<polyline points="3798.8,470.1 3866,418.4 3933.2,458 4000.5,306.3 4067.7,449.3 4134.9,476.1 4202.1,487.5 4269.3,487.5 4336.6,487.5" fill="none" stroke="#ff0000" stroke-width="2.6" stroke-dasharray="8,5.2"/>
<circle cx="3798.8" cy="467.4" r="4.6" fill="#ff0000"/>
<circle cx="3866" cy="415.7" r="4.6" fill="#ff0000"/>
<circle cx="3933.2" cy="455.3" r="4.6" fill="#ff0000"/>
<circle cx="4000.5" cy="303.6" r="4.6" fill="#ff0000"/>
<circle cx="4067.7" cy="446.6" r="4.6" fill="#ff0000"/>
<circle cx="4134.9" cy="473.4" r="4.6" fill="#ff0000"/>
<circle cx="4202.1" cy="487.5" r="4.6" fill="#ff0000"/>
<circle cx="4269.3" cy="487.5" r="4.6" fill="#ff0000"/>
<circle cx="4336.6" cy="487.5" r="4.6" fill="#ff0000"/>
<text x="3684" y="429.1" textLength="46.5" lengthAdjust="spacingAndGlyphs">10 %</text>
<text x="3684" y="362" textLength="46.5" lengthAdjust="spacingAndGlyphs">20 %</text>
<text x="3684" y="294.9" textLength="46.5" lengthAdjust="spacingAndGlyphs">30 %</text>
<text x="3684" y="227.8" textLength="46.5" lengthAdjust="spacingAndGlyphs">40 %</text>
<text x="3684" y="160.7" textLength="46.5" lengthAdjust="spacingAndGlyphs">50 %</text>
<text transform="translate(3794.3,501) rotate(-90)" text-anchor="end" textLength="160" lengthAdjust="spacingAndGlyphs">Hardware and</text>
<text transform="translate(3820.3,501) rotate(-90)" text-anchor="end" textLength="141" lengthAdjust="spacingAndGlyphs">Architecture</text>
<text transform="translate(3861.5,501) rotate(-90)" text-anchor="end" textLength="114" lengthAdjust="spacingAndGlyphs">Computer</text>
<text transform="translate(3887.5,501) rotate(-90)" text-anchor="end" textLength="81.5" lengthAdjust="spacingAndGlyphs">Science</text>
<text transform="translate(3928.7,501) rotate(-90)" text-anchor="end" textLength="134" lengthAdjust="spacingAndGlyphs">Information</text>
<text transform="translate(3954.7,501) rotate(-90)" text-anchor="end" textLength="91" lengthAdjust="spacingAndGlyphs">Systems</text>
<text transform="translate(3996,501) rotate(-90)" text-anchor="end" textLength="134" lengthAdjust="spacingAndGlyphs">Information</text>
<text transform="translate(4022,501) rotate(-90)" text-anchor="end" textLength="126.5" lengthAdjust="spacingAndGlyphs">Technology</text>
<text transform="translate(4063.2,501) rotate(-90)" text-anchor="end" textLength="97" lengthAdjust="spacingAndGlyphs">Software</text>
<text transform="translate(4089.2,501) rotate(-90)" text-anchor="end" textLength="134" lengthAdjust="spacingAndGlyphs">Engineering</text>
<text transform="translate(4130.4,501) rotate(-90)" text-anchor="end" textLength="159" lengthAdjust="spacingAndGlyphs">Mathematics</text>
<text transform="translate(4156.4,501) rotate(-90)" text-anchor="end" textLength="167" lengthAdjust="spacingAndGlyphs">for Computing</text>
<text transform="translate(4197.6,501) rotate(-90)" text-anchor="end" textLength="60" lengthAdjust="spacingAndGlyphs">Basic</text>
<text transform="translate(4223.6,501) rotate(-90)" text-anchor="end" textLength="91" lengthAdjust="spacingAndGlyphs">Sciences</text>
<text transform="translate(4277.8,501) rotate(-90)" text-anchor="end" textLength="96.6" lengthAdjust="spacingAndGlyphs">Business</text>
<text transform="translate(4332.1,501) rotate(-90)" text-anchor="end" textLength="87" lengthAdjust="spacingAndGlyphs">General</text>
<text transform="translate(4358.1,501) rotate(-90)" text-anchor="end" textLength="123" lengthAdjust="spacingAndGlyphs">Knowledge</text>
<rect x="4147.6" y="170.5" width="193.4" height="98.5" fill="#555"/>
<rect x="4142.6" y="165.5" width="193.4" height="98.5" fill="#fff" stroke="#000" stroke-width="2"/>
<path d="M4149,185.7H4210" stroke="#0000ff" stroke-width="2.6" stroke-dasharray="13.5,9"/>
<text x="4210.6" y="194.2" textLength="92" lengthAdjust="spacingAndGlyphs">IT Max</text>
<path d="M4149,212.5H4210" stroke="#000" stroke-width="2.2"/>
<text x="4210.6" y="221" textLength="90" lengthAdjust="spacingAndGlyphs">CS-UNI</text>
<path d="M4149,239.3H4210" stroke="#ff0000" stroke-width="2.6" stroke-dasharray="13.5,9"/>
<text x="4210.6" y="247.8" textLength="87" lengthAdjust="spacingAndGlyphs">IT Min</text>
</g>
<text x="4237" y="1344.6" class="cap" textLength="342" lengthAdjust="spacingAndGlyphs">CS (UNI) vs IT (ACM/IEEE-CS)</text>
<path d="M4448.1,1356.4H4452.4V1620.1H3603.5V1615.8H4448.1Z" fill="#fff"/>
<rect x="3599.2" y="1352.1" width="848.9" height="263.7" fill="#4c6f8c" stroke="#9fb4c6" stroke-width="0.8"/>
<rect x="3603" y="1356" width="841.5" height="256" fill="#fff"/>
<rect x="3628" y="1372" width="791.6" height="223.5" fill="none" stroke="#000" stroke-width="1.1"/>
<text x="3637" y="1503" textLength="99.5" lengthAdjust="spacingAndGlyphs" style="font-size:31px">C S 2 7 1</text>
<text x="3747" y="1387" textLength="34.5" lengthAdjust="spacingAndGlyphs" style="font-size:15px">Nivel</text>
<text x="3747" y="1402" class="cd" textLength="527.5" lengthAdjust="spacingAndGlyphs">1xx = «Introductory», 2xx = «Intermediate», 3xx = «Advanced», 4xx = «CaptoneProject»</text>
<text x="3747" y="1428" textLength="191" lengthAdjust="spacingAndGlyphs" style="font-size:15px">Tema (segundo dígito/letra)</text>
<text x="3747" y="1442" class="cd" textLength="209" lengthAdjust="spacingAndGlyphs">1 = Algoritmos y Complejidad (AL)</text>
<text x="4034.5" y="1442" class="cd" textLength="266" lengthAdjust="spacingAndGlyphs">B = Desarrollo Basados en Plataforma (PBD)</text>
<text x="3747" y="1456.8" class="cd" textLength="223.5" lengthAdjust="spacingAndGlyphs">2 = Arquitectura y Organización (AR)</text>
<text x="4034.5" y="1456.8" class="cd" textLength="195.5" lengthAdjust="spacingAndGlyphs">C = Ciencia Computacional (CN)</text>
<text x="3747" y="1471.5" class="cd" textLength="200" lengthAdjust="spacingAndGlyphs">3 = Redes y Comunicaciones (NC)</text>
<text x="4034.5" y="1471.5" class="cd" textLength="179" lengthAdjust="spacingAndGlyphs">D = Estructura Discretas (DS)</text>
<text x="3747" y="1486.2" class="cd" textLength="215.5" lengthAdjust="spacingAndGlyphs">4 = Lenguajes de Programación (PL)</text>
<text x="4034.5" y="1486.2" class="cd" textLength="299" lengthAdjust="spacingAndGlyphs">F = Fundamentos del Desarrollo de Software (SDF)</text>
<text x="3747" y="1501" class="cd" textLength="198" lengthAdjust="spacingAndGlyphs">5 = Gráficos y Visualización (GV)</text>
<text x="4034.5" y="1501" class="cd" textLength="260" lengthAdjust="spacingAndGlyphs">H = Interacción Humano Computador (HCI)</text>
<text x="3747" y="1515.8" class="cd" textLength="174.5" lengthAdjust="spacingAndGlyphs">6 = Inteligencia Artificial (IA)</text>
<text x="4034.5" y="1515.8" class="cd" textLength="323" lengthAdjust="spacingAndGlyphs">I = Aseguramiento y Seguridad de la Información (IAS)</text>
<text x="3747" y="1530.5" class="cd" textLength="190.5" lengthAdjust="spacingAndGlyphs">7 = Gestión de Información (IM)</text>
<text x="4034.5" y="1530.5" class="cd" textLength="269" lengthAdjust="spacingAndGlyphs">P = Computación Paralela y Distribuída (PD)</text>
<text x="3747" y="1545.2" class="cd" textLength="282.5" lengthAdjust="spacingAndGlyphs">8 = Asuntos Sociales y Práctica Profesional (SP)</text>
<text x="4034.5" y="1545.2" class="cd" textLength="174.5" lengthAdjust="spacingAndGlyphs">S = Sistemas Operativos (OS)</text>
<text x="3747" y="1560" class="cd" textLength="183.5" lengthAdjust="spacingAndGlyphs">9 = Ingeniería de Software (SE)</text>
<text x="4034.5" y="1560" class="cd" textLength="207" lengthAdjust="spacingAndGlyphs">U = Fundamentos de Sistemas (SF)</text>
<text x="3729" y="1581" textLength="222" lengthAdjust="spacingAndGlyphs" style="font-size:15px">Identificador numérico en el área</text>
<path d="M3738,1384.5H3689.5V1472 M3738,1424.5H3714V1472 M3731,1565V1509" stroke="#000" stroke-width="1" fill="none"/>
<path d="M3689.5,1477l-2.4,-7h4.8Z M3714,1477l-2.4,-7h4.8Z M3731,1503.5l-2.4,7h4.8Z" fill="#000"/>
<text x="4025" y="1642" class="cap" textLength="269" lengthAdjust="spacingAndGlyphs">Computing Course Coding</text>
<path d="M4446.6,1653.4H4450.9V2376.1H3603.5V2371.8H4446.6Z" fill="#fff"/>
<rect x="3599.2" y="1649.1" width="847.4" height="722.7" fill="#4c6f8c" stroke="#9fb4c6" stroke-width="0.8"/>
<rect x="3603" y="1653" width="840" height="715" fill="#fff"/>
<circle cx="4104.7" cy="1985.5" r="315" fill="none" stroke="#000" stroke-width="3"/>
<ellipse cx="4265.5" cy="1965.3" rx="109.5" ry="177.3" fill="none" stroke="#0000ff" stroke-width="3" stroke-dasharray="6,4.5"/>
<ellipse cx="0" cy="0" rx="224" ry="148" transform="translate(4124,2004.8) rotate(56)" fill="none" stroke="#ba55d3" stroke-width="2" stroke-dasharray="6,4.5"/>
<circle cx="4105.2" cy="1985" r="118.4" fill="none" stroke="#ffa500" stroke-width="2" stroke-dasharray="6,4.5"/>
<ellipse cx="3986.8" cy="2083.7" rx="98.7" ry="157.9" fill="none" stroke="#0000ff" stroke-width="2" stroke-dasharray="6,4.5"/>
<ellipse cx="0" cy="0" rx="179" ry="97.3" transform="translate(4195.5,2064) rotate(-56.7)" fill="none" stroke="#32cd32" stroke-width="2" stroke-dasharray="6,4.5"/>
<polygon points="4217.9,2000.3 4267.3,2000.3 4291.2,2044 4267.3,2087.7 4217.9,2087.7 4194,2044" fill="none" stroke="#ff4500" stroke-width="3.2" stroke-dasharray="7,4.5"/>
<rect x="4159" y="2094.4" width="42.5" height="23.2" fill="#bbb" rx="6"/>
<rect x="4156.5" y="2091.6" width="42.5" height="23.2" fill="#f4e52a" stroke="#000" stroke-width="1.6" rx="6"/>
<text x="4177.7" y="2112" text-anchor="middle" style="font-size:25.5px">CS</text>
<text x="4102.8" y="1713.6" class="vb" textLength="77.4" lengthAdjust="spacingAndGlyphs" fill="#8b1a1a">Computing</text>
<text x="3709" y="1743.6" class="vb" textLength="116" lengthAdjust="spacingAndGlyphs" fill="#000">Domain Activity</text>
<text x="3709" y="1761.4" class="vb" textLength="161.8" lengthAdjust="spacingAndGlyphs" fill="#000">Enabled by Computing</text>
<text x="3709" y="1979.5" class="vb" textLength="77.4" lengthAdjust="spacingAndGlyphs" fill="#000">Computing</text>
<text x="3709" y="1997.6" class="vb" textLength="77" lengthAdjust="spacingAndGlyphs" fill="#000">Technology</text>
<text x="3709" y="2216.3" class="vb" textLength="77.4" lengthAdjust="spacingAndGlyphs" fill="#000">Computing</text>
<text x="3709" y="2234.3" class="vb" textLength="84.4" lengthAdjust="spacingAndGlyphs" fill="#000">Foundations</text>
<text x="3945" y="2343.2" class="vb" textLength="67.6" lengthAdjust="spacingAndGlyphs" fill="#000">Hardware</text>
<text x="4102" y="2343.2" class="vb" textLength="59.2" lengthAdjust="spacingAndGlyphs" fill="#000">Software</text>
<text x="4259.6" y="2334.3" class="vb" textLength="101.6" lengthAdjust="spacingAndGlyphs" fill="#000">Organizational</text>
<text x="4259.6" y="2352.5" class="vb" textLength="37.5" lengthAdjust="spacingAndGlyphs" fill="#000">needs</text>
<text x="4070.7" y="1838.7" class="vb" textLength="46.9" lengthAdjust="spacingAndGlyphs" fill="#ba55d3" style="font-size:10.5px">Security</text>
<text x="4025.8" y="1872.5" class="vb" textLength="26.6" lengthAdjust="spacingAndGlyphs" fill="#ba55d3" style="font-size:17px">CY</text>
<text x="4263.6" y="1816.5" class="vb" textLength="132.7" lengthAdjust="spacingAndGlyphs" fill="#0000ff" style="font-size:10.5px">Digital Transformation</text>
<text x="4263.6" y="1830.6" class="vb" textLength="20" lengthAdjust="spacingAndGlyphs" fill="#0000ff" style="font-size:10.5px">and</text>
<text x="4263.6" y="1844.7" class="vb" textLength="66" lengthAdjust="spacingAndGlyphs" fill="#0000ff" style="font-size:10.5px">Intelligence</text>
<text x="4261.6" y="1893" class="vb" textLength="16.3" lengthAdjust="spacingAndGlyphs" fill="#000" style="font-size:16px">IS</text>
<text x="4316.9" y="1920.2" class="vb" textLength="24.2" lengthAdjust="spacingAndGlyphs" fill="#0000ff" style="font-size:16px">DS</text>
<text x="4094.4" y="1908.7" class="vb" textLength="75.5" lengthAdjust="spacingAndGlyphs" fill="#ffa500" style="font-size:10.5px">IT Platforms</text>
<text x="4094.4" y="1922.4" class="vb" textLength="20" lengthAdjust="spacingAndGlyphs" fill="#ffa500" style="font-size:10.5px">and</text>
<text x="4094.4" y="1936.1" class="vb" textLength="81" lengthAdjust="spacingAndGlyphs" fill="#ffa500" style="font-size:10.5px">Infrastructure</text>
<text x="4170.8" y="1975.5" class="vb" textLength="19.7" lengthAdjust="spacingAndGlyphs" fill="#000" style="font-size:16px">IT</text>
<text x="4152" y="2059.3" class="vb" textLength="22.2" lengthAdjust="spacingAndGlyphs" fill="#000" style="font-size:16px">SE</text>
<text x="4242.4" y="2049.8" class="vb" textLength="20.2" lengthAdjust="spacingAndGlyphs" fill="#ff4500" style="font-size:16px">AI</text>
<text x="4048.5" y="2109" class="vb" textLength="25.7" lengthAdjust="spacingAndGlyphs" fill="#0000ff" style="font-size:16px">CE</text>
<text x="4142.2" y="2165.7" class="vb" textLength="49.8" lengthAdjust="spacingAndGlyphs" fill="#228b22" style="font-size:10.5px">Software</text>
<text x="3984.4" y="2186" class="vb" textLength="56.7" lengthAdjust="spacingAndGlyphs" fill="#0000ff" style="font-size:10.5px">Hardware</text>
<text x="4025.8" y="2398" class="cap" textLength="433" lengthAdjust="spacingAndGlyphs">ACM/IEEE-CS Computing Curricula 2020</text>
<path d="M4018.1,2414.1H4022.4V2736H3608.9V2731.7H4018.1Z" fill="#fff"/>
<rect x="3604.6" y="2409.8" width="413.5" height="321.9" fill="#4c6f8c" stroke="#9fb4c6" stroke-width="0.8"/>
<rect x="3608.4" y="2413.7" width="406.1" height="314.2" fill="#fff"/>
<path d="M3791,2559.1 L3910.8,2559.1 A119.8,119.8 0 0 0 3909.9,2544.8 Z" fill="#bebebe" stroke="#000" stroke-width="1.7" stroke-linejoin="round"/>
<path d="M3791,2559.1 L3909.9,2544.8 A119.8,119.8 0 1 0 3750.4,2671.8 Z" fill="#0000ff" stroke="#000" stroke-width="1.7" stroke-linejoin="round"/>
<path d="M3791,2559.1 L3750.4,2671.8 A119.8,119.8 0 0 0 3764.1,2675.8 Z" fill="#a020f0" stroke="#000" stroke-width="1.7" stroke-linejoin="round"/>
<path d="M3791,2559.1 L3764.1,2675.8 A119.8,119.8 0 0 0 3904.9,2596.1 Z" fill="#00ff00" stroke="#000" stroke-width="1.7" stroke-linejoin="round"/>
<path d="M3791,2559.1 L3904.9,2596.1 A119.8,119.8 0 0 0 3910.8,2559.9 Z" fill="#f08080" stroke="#000" stroke-width="1.7" stroke-linejoin="round"/>
<text x="3631.7" y="2448.5" textLength="81" lengthAdjust="spacingAndGlyphs" style="font-size:23.4px">CS (140)</text>
<text x="3924.8" y="2557.5" textLength="63" lengthAdjust="spacingAndGlyphs" style="font-size:23.4px">CB (4)</text>
<text x="3924.8" y="2588.3" textLength="68" lengthAdjust="spacingAndGlyphs" style="font-size:23.4px">ID (10)</text>
<text x="3846" y="2698.3" textLength="74" lengthAdjust="spacingAndGlyphs" style="font-size:23.4px">FG (49)</text>
<text x="3716.7" y="2708.3" textLength="57" lengthAdjust="spacingAndGlyphs" style="font-size:23.4px">AI (4)</text>
<text x="3746" y="2511.5" text-anchor="middle" textLength="59" lengthAdjust="spacingAndGlyphs" style="font-size:22px">67.6 %</text>
<text x="3863.5" y="2562.5" text-anchor="middle" textLength="47" lengthAdjust="spacingAndGlyphs" style="font-size:22px">1.9 %</text>
<text x="3862.6" y="2577.5" text-anchor="middle" textLength="47" lengthAdjust="spacingAndGlyphs" style="font-size:22px">4.8 %</text>
<text x="3827.7" y="2631.5" text-anchor="middle" textLength="59" lengthAdjust="spacingAndGlyphs" style="font-size:22px">23.6 %</text>
<text x="3771.6" y="2638" text-anchor="middle" textLength="47" lengthAdjust="spacingAndGlyphs" style="font-size:22px">1.9 %</text>
<text x="3813.9" y="2757.5" class="cap" textLength="155" lengthAdjust="spacingAndGlyphs">Credits by area</text>
<path d="M4443.3,2459.8H4447.6V2691.1H4032.3V2686.8H4443.3Z" fill="#fff"/>
<rect x="4028" y="2455.5" width="415.3" height="231.3" fill="#4c6f8c" stroke="#9fb4c6" stroke-width="0.8"/>
<rect x="4031.8" y="2459.4" width="407.9" height="223.6" fill="#fff"/>
<circle cx="4244" cy="2572.1" r="93.9" fill="#555"/>
<path d="M4242.4,2570.3 L4336.3,2570.3 A93.9,93.9 0 0 0 4183.9,2496.8 Z" fill="#fff" stroke="#000" stroke-width="0.7" stroke-linejoin="round"/>
<path d="M4242.4,2570.3 L4183.9,2496.8 A93.9,93.9 0 0 0 4210.6,2658.6 Z" fill="#ffff00" stroke="#000" stroke-width="0.7" stroke-linejoin="round"/>
<path d="M4242.4,2570.3 L4210.6,2658.6 A93.9,93.9 0 0 0 4328.8,2607 Z" fill="#00ff00" stroke="#000" stroke-width="0.7" stroke-linejoin="round"/>
<path d="M4242.4,2570.3 L4328.8,2607 A93.9,93.9 0 0 0 4336.3,2570.3 Z" fill="#bebebe" stroke="#000" stroke-width="0.7" stroke-linejoin="round"/>
<text x="4267" y="2483.8" text-anchor="start" textLength="88.5" lengthAdjust="spacingAndGlyphs" fill="#222" style="font-size:11.6px">Introductory (74)</text>
<text x="4055.5" y="2588.8" text-anchor="start" textLength="88.5" lengthAdjust="spacingAndGlyphs" fill="#222" style="font-size:11.6px">Intermediate (70)</text>
<text x="4270" y="2663.8" text-anchor="start" textLength="73.4" lengthAdjust="spacingAndGlyphs" fill="#222" style="font-size:11.6px">Advanced (50)</text>
<text x="4385.7" y="2586" text-anchor="middle" textLength="48" lengthAdjust="spacingAndGlyphs" fill="#222" style="font-size:11.6px">Capstone</text>
<text x="4385.7" y="2600.8" text-anchor="middle" textLength="60" lengthAdjust="spacingAndGlyphs" fill="#222" style="font-size:11.6px">project (13)</text>
<text x="4267" y="2523.5" text-anchor="middle" fill="#222" style="font-size:11.3px">35.7 %</text>
<text x="4187.2" y="2584" text-anchor="middle" fill="#222" style="font-size:11.3px">33.8 %</text>
<text x="4265.3" y="2626.7" text-anchor="middle" fill="#222" style="font-size:11.3px">24.1 %</text>
<text x="4298" y="2585.7" text-anchor="middle" fill="#222" style="font-size:11.3px">6.2 %</text>
<text x="4237.7" y="2711.8" class="cap" textLength="159" lengthAdjust="spacingAndGlyphs">Credits by level</text>
<path d="M3969.8,2768.4H3974.1V3033.3H3622.7V3029H3969.8Z" fill="#fff"/>
<rect x="3618.4" y="2764.1" width="351.4" height="264.9" fill="#4c6f8c" stroke="#9fb4c6" stroke-width="0.8"/>
<rect x="3622.2" y="2768" width="344" height="257.2" fill="#fff"/>
<polygon points="3682.2,2818.9 3710.9,2879 3739.6,2896.2 3768.4,2939.1 3797.1,2964.8 3825.8,2956.2 3854.5,2947.7 3883.3,2947.7 3912,2982 3940.7,2964.8 3940.7,2982 3912,2982 3883.3,2982 3854.5,2982 3825.8,2982 3797.1,2982 3768.4,2982 3739.6,2982 3710.9,2982 3682.2,2982" fill="#bebebe"/>
<polygon points="3682.2,2784.5 3710.9,2784.5 3739.6,2801.7 3768.4,2810.3 3797.1,2801.7 3825.8,2801.7 3854.5,2827.5 3883.3,2844.6 3912,2921.9 3940.7,2904.7 3940.7,2964.8 3912,2982 3883.3,2947.7 3854.5,2947.7 3825.8,2956.2 3797.1,2964.8 3768.4,2939.1 3739.6,2896.2 3710.9,2879 3682.2,2818.9" fill="#ff0000"/>
<polygon points="3682.2,2784.5 3710.9,2784.5 3739.6,2801.7 3768.4,2793.1 3797.1,2801.7 3825.8,2801.7 3854.5,2793.1 3883.3,2818.9 3912,2818.9 3940.7,2844.6 3940.7,2904.7 3912,2921.9 3883.3,2844.6 3854.5,2827.5 3825.8,2801.7 3797.1,2801.7 3768.4,2810.3 3739.6,2801.7 3710.9,2784.5 3682.2,2784.5" fill="#ffff00"/>
<path d="M3655,2939.1H3940.7M3655,2896.2H3940.7M3655,2853.2H3940.7M3655,2810.3H3940.7" stroke="#aaa" stroke-width="0.7" stroke-dasharray="1,2.6" fill="none"/>
<text x="3654.5" y="2941.5" text-anchor="end" fill="#333" style="font-size:7px">5</text>
<text x="3654.5" y="2898.6" text-anchor="end" fill="#333" style="font-size:7px">10</text>
<text x="3654.5" y="2855.6" text-anchor="end" fill="#333" style="font-size:7px">15</text>
<text x="3654.5" y="2812.7" text-anchor="end" fill="#333" style="font-size:7px">20</text>
<text transform="translate(3685.7,2987.5) rotate(-45)" text-anchor="end" font-size="7.6" fill="#333">1<tspan font-size="5" dy="-2.6" font-style="italic">st</tspan><tspan dy="2.6"> Sem</tspan></text>
<text transform="translate(3714.4,2987.5) rotate(-45)" text-anchor="end" font-size="7.6" fill="#333">2<tspan font-size="5" dy="-2.6" font-style="italic">nd</tspan><tspan dy="2.6"> Sem</tspan></text>
<text transform="translate(3743.1,2987.5) rotate(-45)" text-anchor="end" font-size="7.6" fill="#333">3<tspan font-size="5" dy="-2.6" font-style="italic">rd</tspan><tspan dy="2.6"> Sem</tspan></text>
<text transform="translate(3771.9,2987.5) rotate(-45)" text-anchor="end" font-size="7.6" fill="#333">4<tspan font-size="5" dy="-2.6" font-style="italic">th</tspan><tspan dy="2.6"> Sem</tspan></text>
<text transform="translate(3800.6,2987.5) rotate(-45)" text-anchor="end" font-size="7.6" fill="#333">5<tspan font-size="5" dy="-2.6" font-style="italic">th</tspan><tspan dy="2.6"> Sem</tspan></text>
<text transform="translate(3829.3,2987.5) rotate(-45)" text-anchor="end" font-size="7.6" fill="#333">6<tspan font-size="5" dy="-2.6" font-style="italic">th</tspan><tspan dy="2.6"> Sem</tspan></text>
<text transform="translate(3858,2987.5) rotate(-45)" text-anchor="end" font-size="7.6" fill="#333">7<tspan font-size="5" dy="-2.6" font-style="italic">th</tspan><tspan dy="2.6"> Sem</tspan></text>
<text transform="translate(3886.8,2987.5) rotate(-45)" text-anchor="end" font-size="7.6" fill="#333">8<tspan font-size="5" dy="-2.6" font-style="italic">th</tspan><tspan dy="2.6"> Sem</tspan></text>
<text transform="translate(3915.5,2987.5) rotate(-45)" text-anchor="end" font-size="7.6" fill="#333">9<tspan font-size="5" dy="-2.6" font-style="italic">th</tspan><tspan dy="2.6"> Sem</tspan></text>
<text transform="translate(3944.2,2987.5) rotate(-45)" text-anchor="end" font-size="7.6" fill="#333">10<tspan font-size="5" dy="-2.6" font-style="italic">th</tspan><tspan dy="2.6"> Sem</tspan></text>
<text x="3796.2" y="3055" class="cap" textLength="256" lengthAdjust="spacingAndGlyphs">Credits by type of course</text>
<path d="M4444.1,2802.1H4448.4V2999.7H4012.8V2995.4H4444.1Z" fill="#fff"/>
<rect x="4008.5" y="2797.8" width="435.6" height="197.6" fill="#4c6f8c" stroke="#9fb4c6" stroke-width="0.8"/>
<rect x="4012.3" y="2801.7" width="428.2" height="189.9" fill="#fff"/>
<g class="dt">
<rect x="4129.3" y="2818.5" width="95" height="12.4" fill="#c8c8c8"/>
<rect x="4236" y="2818.5" width="58.3" height="12.4" fill="#ff0000"/>
<rect x="4305.8" y="2818.5" width="78.6" height="12.4" fill="#ffff00"/>
<path d="M4036.6,2817.2H4416.8M4036.6,2831.8H4416.8M4036.6,2843.7H4416.8M4036.6,2855.7H4416.8M4036.6,2867.6H4416.8M4036.6,2879.6H4416.8M4036.6,2891.5H4416.8M4036.6,2903.5H4416.8M4036.6,2915.4H4416.8M4036.6,2927.4H4416.8M4036.6,2939.3H4416.8M4036.6,2951.3H4416.8M4036.6,2963.2H4416.8M4036.6,2975.2H4416.8M4036.6,2817.2V2975.2M4123.7,2817.2V2975.2M4230.3,2817.2V2975.2M4300.3,2817.2V2975.2M4390.5,2817.2V2975.2M4416.8,2817.2V2975.2" stroke="#333" stroke-width="0.5" fill="none"/>
<text x="4177" y="2827.2" text-anchor="middle" textLength="89" lengthAdjust="spacingAndGlyphs" font-weight="bold">Estudios generales</text>
<text x="4265.2" y="2827.2" text-anchor="middle" textLength="52" lengthAdjust="spacingAndGlyphs" font-weight="bold">Específicos</text>
<text x="4345.2" y="2827.2" text-anchor="middle" textLength="72.5" lengthAdjust="spacingAndGlyphs" font-weight="bold">Especialización</text>
<text x="4042.8" y="2840">Primer Sem</text>
<text x="4177" y="2840" text-anchor="middle">19</text>
<text x="4265.3" y="2840" text-anchor="middle">4</text>
<text x="4403.6" y="2840" text-anchor="middle">23</text>
<text x="4042.8" y="2851.9">Segundo Sem</text>
<text x="4177" y="2851.9" text-anchor="middle">12</text>
<text x="4265.3" y="2851.9" text-anchor="middle">11</text>
<text x="4403.6" y="2851.9" text-anchor="middle">23</text>
<text x="4042.8" y="2863.9">Tercer Sem</text>
<text x="4177" y="2863.9" text-anchor="middle">10</text>
<text x="4265.3" y="2863.9" text-anchor="middle">11</text>
<text x="4403.6" y="2863.9" text-anchor="middle">21</text>
<text x="4042.8" y="2875.8">Cuarto Sem</text>
<text x="4177" y="2875.8" text-anchor="middle">5</text>
<text x="4265.3" y="2875.8" text-anchor="middle">15</text>
<text x="4345.4" y="2875.8" text-anchor="middle">2</text>
<text x="4403.6" y="2875.8" text-anchor="middle">22</text>
<text x="4042.8" y="2887.8">Quinto Sem</text>
<text x="4177" y="2887.8" text-anchor="middle">2</text>
<text x="4265.3" y="2887.8" text-anchor="middle">19</text>
<text x="4403.6" y="2887.8" text-anchor="middle">21</text>
<text x="4042.8" y="2899.7">Sexto Sem</text>
<text x="4177" y="2899.7" text-anchor="middle">3</text>
<text x="4265.3" y="2899.7" text-anchor="middle">18</text>
<text x="4403.6" y="2899.7" text-anchor="middle">21</text>
<text x="4042.8" y="2911.7">Séptimo Sem</text>
<text x="4177" y="2911.7" text-anchor="middle">4</text>
<text x="4265.3" y="2911.7" text-anchor="middle">14</text>
<text x="4345.4" y="2911.7" text-anchor="middle">4</text>
<text x="4403.6" y="2911.7" text-anchor="middle">22</text>
<text x="4042.8" y="2923.6">Octavo Sem</text>
<text x="4177" y="2923.6" text-anchor="middle">4</text>
<text x="4265.3" y="2923.6" text-anchor="middle">12</text>
<text x="4345.4" y="2923.6" text-anchor="middle">3</text>
<text x="4403.6" y="2923.6" text-anchor="middle">19</text>
<text x="4042.8" y="2935.6">Noveno Sem</text>
<text x="4265.3" y="2935.6" text-anchor="middle">7</text>
<text x="4345.4" y="2935.6" text-anchor="middle">12</text>
<text x="4403.6" y="2935.6" text-anchor="middle">19</text>
<text x="4042.8" y="2947.5">Décimo Sem</text>
<text x="4177" y="2947.5" text-anchor="middle">2</text>
<text x="4265.3" y="2947.5" text-anchor="middle">7</text>
<text x="4345.4" y="2947.5" text-anchor="middle">7</text>
<text x="4403.6" y="2947.5" text-anchor="middle">16</text>
<text x="4042.8" y="2959.5" font-weight="bold">Total</text>
<text x="4177" y="2959.5" text-anchor="middle">61</text>
<text x="4265.3" y="2959.5" text-anchor="middle">118</text>
<text x="4345.4" y="2959.5" text-anchor="middle">28</text>
<text x="4403.6" y="2959.5" text-anchor="middle">207</text>
<text x="4177" y="2971.4" text-anchor="middle">29.4 %</text>
<text x="4265.3" y="2971.4" text-anchor="middle">57 %</text>
<text x="4345.4" y="2971.4" text-anchor="middle">13.5 %</text>
</g>
<text x="4219.6" y="3021" class="cap" textLength="214" lengthAdjust="spacingAndGlyphs">Distribution by areas</text>
</svg>
</body></html>
